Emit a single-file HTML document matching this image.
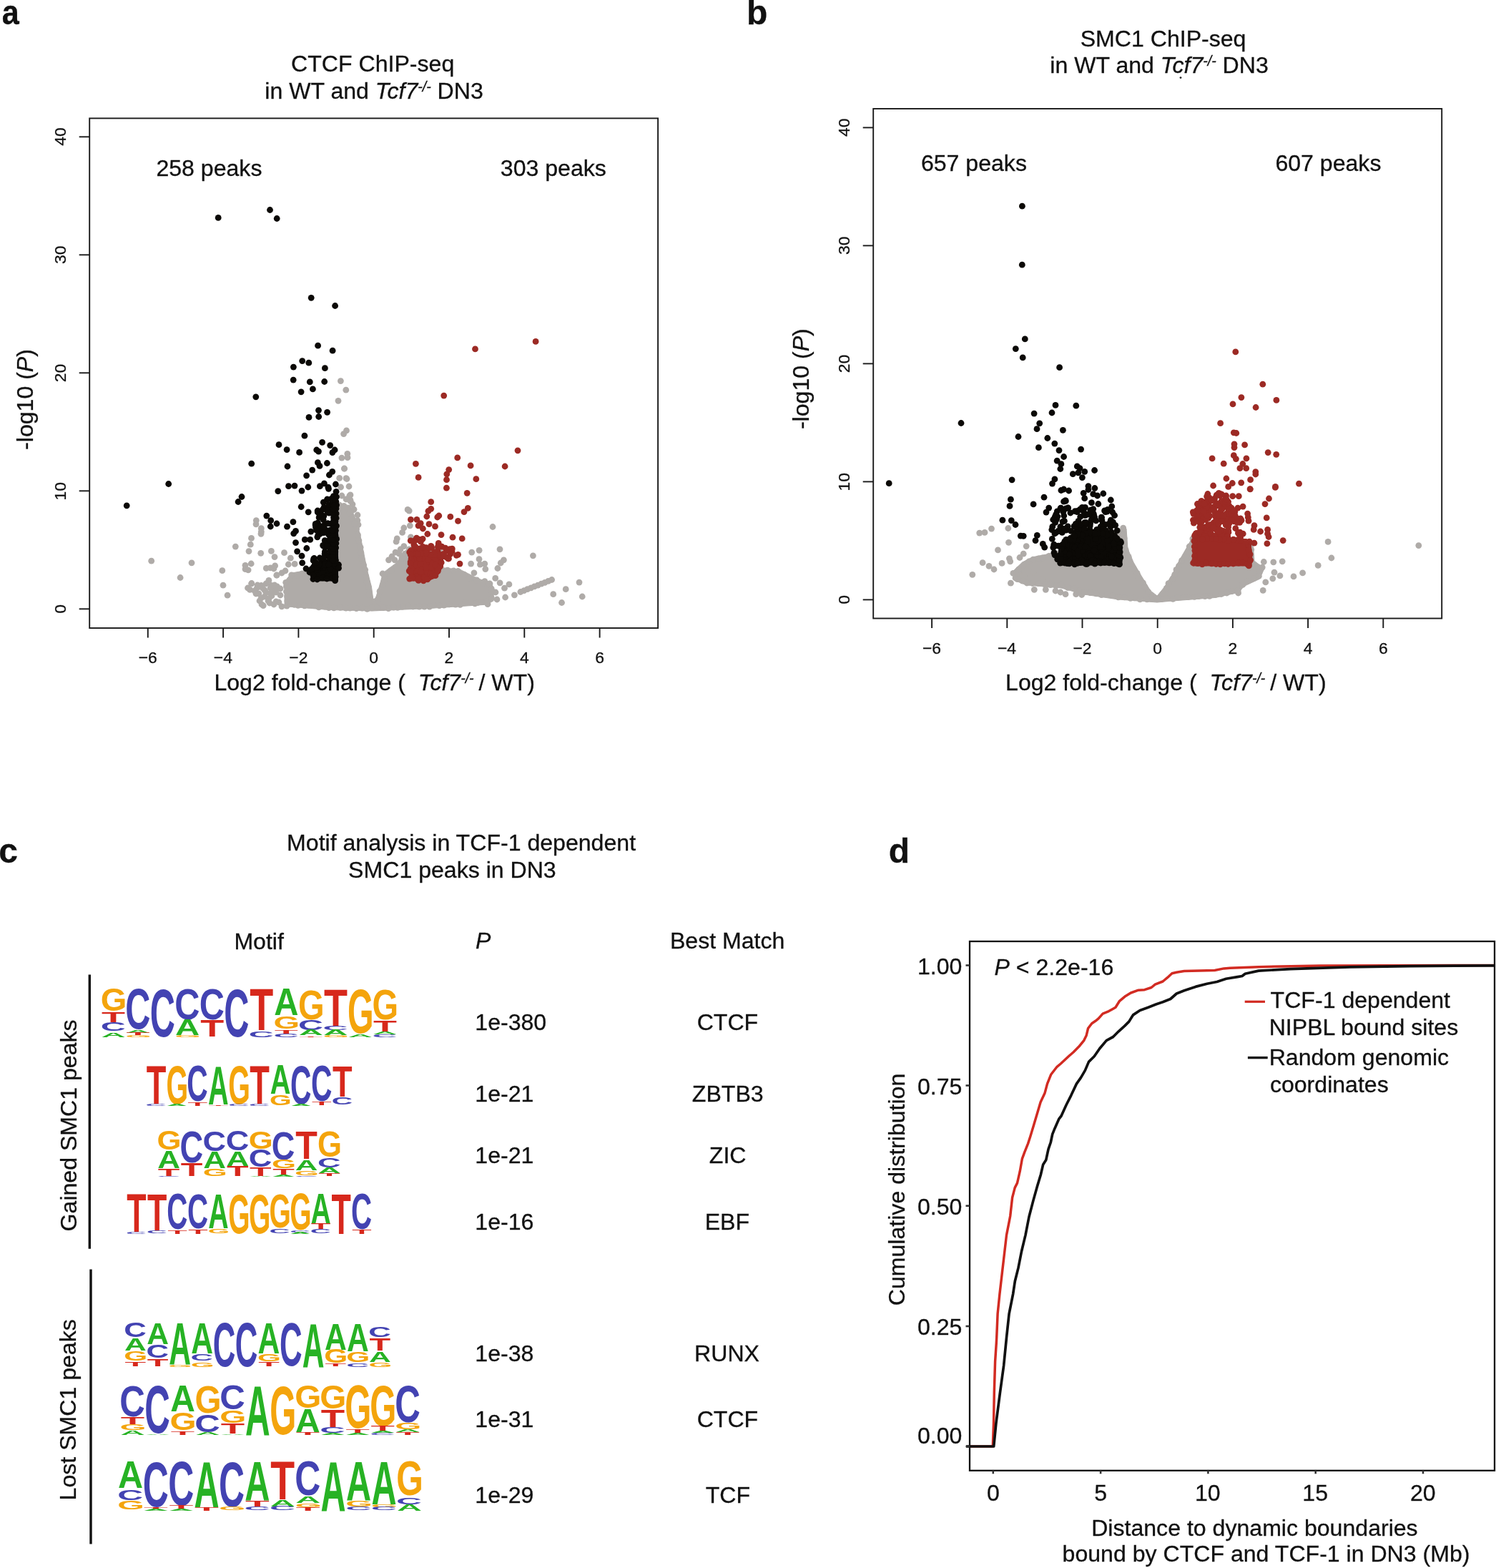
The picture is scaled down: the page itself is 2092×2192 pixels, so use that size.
<!DOCTYPE html>
<html><head><meta charset="utf-8"><title>Figure</title>
<style>html,body{margin:0;padding:0;background:#fff;width:2092px;height:2192px}svg{display:block}text{font-family:"Liberation Sans",Arial,Helvetica,sans-serif;fill:#111;stroke:#111;stroke-width:0.3px}text.lg{stroke:none}</style>
</head><body>
<svg width="2092" height="2192" viewBox="0 0 2092 2192">
<rect x="0" y="0" width="2092" height="2192" fill="#fff"/>
<text transform="translate(2.8,34.4) scale(0.9,1)" font-size="48" font-weight="bold">a</text>
<text x="1043.9" y="34.2" font-size="48" font-weight="bold">b</text>
<text x="-1.7" y="1206.2" font-size="48" font-weight="bold">c</text>
<text x="1242.8" y="1205.9" font-size="48" font-weight="bold">d</text>
<polygon points="398.0,848.0 398.0,813.0 408.0,801.0 422.0,798.6 436.0,797.0 466.0,760.0 470.0,712.0 475.0,703.0 481.0,705.0 490.0,708.0 496.2,722.6 503.5,747.0 508.4,771.7 513.3,796.2 519.5,820.7 522.0,839.0 525.6,835.4 531.7,815.8 535.4,801.0 545.2,793.7 555.0,786.4 564.8,771.7 572.0,765.0 618.0,765.0 618.8,793.7 643.3,796.2 667.8,808.4 687.4,815.8 690.0,822.0 690.0,840.0 680.0,845.2 600.0,850.5 520.7,854.0 460.0,852.5 410.3,848.5" fill="#afaba8" stroke="#afaba8" stroke-width="1" stroke-linejoin="round"/>
<g fill="#afaba8"><circle cx="211.7" cy="784.2" r="4.4"/><circle cx="268.0" cy="786.8" r="4.4"/><circle cx="252.1" cy="807.5" r="4.4"/><circle cx="310.8" cy="797.7" r="4.4"/><circle cx="312.0" cy="818.2" r="4.4"/><circle cx="318.1" cy="832.2" r="4.4"/><circle cx="329.3" cy="764.1" r="4.4"/><circle cx="358.3" cy="727.6" r="4.4"/><circle cx="358.0" cy="732.8" r="4.4"/><circle cx="365.3" cy="738.7" r="4.4"/><circle cx="365.3" cy="743.4" r="4.4"/><circle cx="365.0" cy="746.3" r="4.4"/><circle cx="351.5" cy="752.4" r="4.4"/><circle cx="350.3" cy="761.2" r="4.4"/><circle cx="348.0" cy="770.6" r="4.4"/><circle cx="364.7" cy="773.3" r="4.4"/><circle cx="379.4" cy="770.4" r="4.4"/><circle cx="384.0" cy="778.6" r="4.4"/><circle cx="397.5" cy="772.7" r="4.4"/><circle cx="343.0" cy="790.3" r="4.4"/><circle cx="351.2" cy="788.0" r="4.4"/><circle cx="343.0" cy="795.6" r="4.4"/><circle cx="347.1" cy="796.8" r="4.4"/><circle cx="372.3" cy="794.4" r="4.4"/><circle cx="378.2" cy="793.8" r="4.4"/><circle cx="384.6" cy="790.9" r="4.4"/><circle cx="382.9" cy="795.0" r="4.4"/><circle cx="387.0" cy="804.0" r="4.4"/><circle cx="394.0" cy="801.0" r="4.4"/><circle cx="399.0" cy="798.0" r="4.4"/><circle cx="351.8" cy="815.5" r="4.4"/><circle cx="346.5" cy="822.0" r="4.4"/><circle cx="349.5" cy="824.3" r="4.4"/><circle cx="359.4" cy="822.0" r="4.4"/><circle cx="365.3" cy="818.5" r="4.4"/><circle cx="375.9" cy="811.4" r="4.4"/><circle cx="379.4" cy="818.5" r="4.4"/><circle cx="387.6" cy="820.0" r="4.4"/><circle cx="365.3" cy="836.0" r="4.4"/><circle cx="368.2" cy="846.6" r="4.4"/><circle cx="394.0" cy="847.8" r="4.4"/><circle cx="406.3" cy="780.2" r="4.4"/><circle cx="403.3" cy="789.0" r="4.4"/><circle cx="412.1" cy="788.4" r="4.4"/><circle cx="386.9" cy="804.2" r="4.4"/><circle cx="351.7" cy="816.0" r="4.4"/><circle cx="358.0" cy="830.0" r="4.4"/><circle cx="372.0" cy="828.0" r="4.4"/><circle cx="380.0" cy="833.0" r="4.4"/><circle cx="363.0" cy="840.0" r="4.4"/><circle cx="377.0" cy="843.0" r="4.4"/><circle cx="370.0" cy="825.0" r="4.4"/><circle cx="384.0" cy="826.0" r="4.4"/><circle cx="376.0" cy="837.0" r="4.4"/><circle cx="386.0" cy="841.0" r="4.4"/><circle cx="360.0" cy="818.0" r="4.4"/><circle cx="367.0" cy="822.0" r="4.4"/><circle cx="372.0" cy="816.0" r="4.4"/><circle cx="378.0" cy="822.0" r="4.4"/><circle cx="384.0" cy="818.0" r="4.4"/><circle cx="362.0" cy="830.0" r="4.4"/><circle cx="370.0" cy="834.0" r="4.4"/><circle cx="378.0" cy="830.0" r="4.4"/><circle cx="386.0" cy="828.0" r="4.4"/><circle cx="392.0" cy="823.0" r="4.4"/><circle cx="375.0" cy="840.0" r="4.4"/><circle cx="383.0" cy="845.0" r="4.4"/><circle cx="366.0" cy="845.0" r="4.4"/><circle cx="392.0" cy="832.0" r="4.4"/><circle cx="390.0" cy="842.0" r="4.4"/><circle cx="356.0" cy="826.0" r="4.4"/><circle cx="476.4" cy="532.6" r="4.4"/><circle cx="483.8" cy="545.2" r="4.4"/><circle cx="473.0" cy="560.3" r="4.4"/><circle cx="484.5" cy="601.9" r="4.4"/><circle cx="480.6" cy="606.6" r="4.4"/><circle cx="485.8" cy="634.3" r="4.4"/><circle cx="486.0" cy="639.7" r="4.4"/><circle cx="477.9" cy="640.1" r="4.4"/><circle cx="481.5" cy="655.0" r="4.4"/><circle cx="485.0" cy="669.5" r="4.4"/><circle cx="474.7" cy="668.4" r="4.4"/><circle cx="490.0" cy="691.9" r="4.4"/><circle cx="490.0" cy="699.4" r="4.4"/><circle cx="495.0" cy="712.2" r="4.4"/><circle cx="500.0" cy="720.0" r="4.4"/><circle cx="488.0" cy="680.0" r="4.4"/><circle cx="493.0" cy="705.0" r="4.4"/><circle cx="476.6" cy="681.0" r="4.4"/><circle cx="484.0" cy="668.7" r="4.4"/><circle cx="481.5" cy="655.2" r="4.4"/><circle cx="488.8" cy="693.2" r="4.4"/><circle cx="490.0" cy="700.5" r="4.4"/><circle cx="493.7" cy="712.8" r="4.4"/><circle cx="499.9" cy="727.5" r="4.4"/><circle cx="501.0" cy="733.6" r="4.4"/><circle cx="478.0" cy="693.0" r="4.4"/><circle cx="484.0" cy="698.0" r="4.4"/><circle cx="570.1" cy="712.4" r="4.4"/><circle cx="572.2" cy="714.1" r="4.4"/><circle cx="573.3" cy="734.8" r="4.4"/><circle cx="564.8" cy="738.0" r="4.4"/><circle cx="562.6" cy="744.4" r="4.4"/><circle cx="555.2" cy="752.9" r="4.4"/><circle cx="554.1" cy="757.2" r="4.4"/><circle cx="564.8" cy="763.6" r="4.4"/><circle cx="574.4" cy="750.8" r="4.4"/><circle cx="553.0" cy="772.1" r="4.4"/><circle cx="558.4" cy="774.2" r="4.4"/><circle cx="543.5" cy="782.8" r="4.4"/><circle cx="552.0" cy="782.8" r="4.4"/><circle cx="535.0" cy="802.0" r="4.4"/><circle cx="548.0" cy="778.0" r="4.4"/><circle cx="560.0" cy="768.0" r="4.4"/><circle cx="689.0" cy="736.5" r="4.4"/><circle cx="699.0" cy="767.8" r="4.4"/><circle cx="670.1" cy="769.3" r="4.4"/><circle cx="659.7" cy="772.1" r="4.4"/><circle cx="745.4" cy="776.8" r="4.4"/><circle cx="670.0" cy="781.7" r="4.4"/><circle cx="677.8" cy="788.1" r="4.4"/><circle cx="678.8" cy="795.6" r="4.4"/><circle cx="671.4" cy="789.2" r="4.4"/><circle cx="658.6" cy="788.1" r="4.4"/><circle cx="662.9" cy="800.9" r="4.4"/><circle cx="704.4" cy="782.8" r="4.4"/><circle cx="700.2" cy="787.0" r="4.4"/><circle cx="695.9" cy="794.5" r="4.4"/><circle cx="677.8" cy="812.6" r="4.4"/><circle cx="692.7" cy="808.4" r="4.4"/><circle cx="699.1" cy="814.8" r="4.4"/><circle cx="711.9" cy="816.9" r="4.4"/><circle cx="705.5" cy="822.2" r="4.4"/><circle cx="706.6" cy="835.0" r="4.4"/><circle cx="719.4" cy="831.8" r="4.4"/><circle cx="773.7" cy="830.7" r="4.4"/><circle cx="791.2" cy="823.7" r="4.4"/><circle cx="785.5" cy="842.5" r="4.4"/><circle cx="810.0" cy="814.1" r="4.4"/><circle cx="814.2" cy="834.0" r="4.4"/><circle cx="682.0" cy="844.6" r="4.4"/><circle cx="668.2" cy="842.5" r="4.4"/><circle cx="693.0" cy="828.0" r="4.4"/><circle cx="695.0" cy="838.0" r="4.4"/><circle cx="685.0" cy="816.0" r="4.4"/><circle cx="727.9" cy="827.5" r="4.4"/><circle cx="732.8" cy="825.6" r="4.4"/><circle cx="737.6" cy="823.7" r="4.4"/><circle cx="742.5" cy="821.8" r="4.4"/><circle cx="747.3" cy="819.9" r="4.4"/><circle cx="752.2" cy="818.1" r="4.4"/><circle cx="757.0" cy="816.2" r="4.4"/><circle cx="761.9" cy="814.3" r="4.4"/><circle cx="766.7" cy="812.4" r="4.4"/><circle cx="771.6" cy="810.5" r="4.4"/><circle cx="401.1" cy="847.2" r="4.4"/><circle cx="401.9" cy="840.0" r="4.4"/><circle cx="401.6" cy="833.7" r="4.4"/><circle cx="400.4" cy="827.0" r="4.4"/><circle cx="400.4" cy="819.8" r="4.4"/><circle cx="399.7" cy="814.3" r="4.4"/><circle cx="405.5" cy="810.0" r="4.4"/><circle cx="407.7" cy="803.8" r="4.4"/><circle cx="415.9" cy="804.3" r="4.4"/><circle cx="422.6" cy="801.8" r="4.4"/><circle cx="430.5" cy="800.2" r="4.4"/><circle cx="439.6" cy="798.7" r="4.4"/><circle cx="442.9" cy="792.1" r="4.4"/><circle cx="448.3" cy="787.6" r="4.4"/><circle cx="453.0" cy="780.9" r="4.4"/><circle cx="459.1" cy="774.2" r="4.4"/><circle cx="463.8" cy="767.3" r="4.4"/><circle cx="468.4" cy="759.6" r="4.4"/><circle cx="470.6" cy="752.1" r="4.4"/><circle cx="470.4" cy="744.5" r="4.4"/><circle cx="471.4" cy="735.8" r="4.4"/><circle cx="472.9" cy="728.8" r="4.4"/><circle cx="472.2" cy="720.5" r="4.4"/><circle cx="473.1" cy="714.6" r="4.4"/><circle cx="474.4" cy="705.8" r="4.4"/><circle cx="481.0" cy="707.4" r="4.4"/><circle cx="486.6" cy="710.0" r="4.4"/><circle cx="489.0" cy="716.6" r="4.4"/><circle cx="491.7" cy="724.0" r="4.4"/><circle cx="495.9" cy="731.9" r="4.4"/><circle cx="498.6" cy="739.4" r="4.4"/><circle cx="500.5" cy="747.9" r="4.4"/><circle cx="501.9" cy="755.8" r="4.4"/><circle cx="504.1" cy="765.2" r="4.4"/><circle cx="504.9" cy="772.8" r="4.4"/><circle cx="505.5" cy="781.0" r="4.4"/><circle cx="508.6" cy="789.9" r="4.4"/><circle cx="510.7" cy="796.5" r="4.4"/><circle cx="511.7" cy="805.6" r="4.4"/><circle cx="512.9" cy="813.3" r="4.4"/><circle cx="515.2" cy="820.3" r="4.4"/><circle cx="516.2" cy="831.0" r="4.4"/><circle cx="523.6" cy="840.9" r="4.4"/><circle cx="528.7" cy="837.3" r="4.4"/><circle cx="531.0" cy="826.5" r="4.4"/><circle cx="535.2" cy="817.6" r="4.4"/><circle cx="537.7" cy="810.1" r="4.4"/><circle cx="537.0" cy="803.6" r="4.4"/><circle cx="547.0" cy="797.4" r="4.4"/><circle cx="559.0" cy="787.5" r="4.4"/><circle cx="562.0" cy="780.3" r="4.4"/><circle cx="566.5" cy="774.2" r="4.4"/><circle cx="572.2" cy="767.9" r="4.4"/><circle cx="578.5" cy="768.3" r="4.4"/><circle cx="587.0" cy="768.7" r="4.4"/><circle cx="596.1" cy="769.0" r="4.4"/><circle cx="602.7" cy="768.8" r="4.4"/><circle cx="610.8" cy="767.4" r="4.4"/><circle cx="615.5" cy="765.8" r="4.4"/><circle cx="615.6" cy="773.0" r="4.4"/><circle cx="614.6" cy="779.2" r="4.4"/><circle cx="614.1" cy="786.9" r="4.4"/><circle cx="617.4" cy="796.1" r="4.4"/><circle cx="625.9" cy="797.2" r="4.4"/><circle cx="634.4" cy="797.8" r="4.4"/><circle cx="640.5" cy="798.5" r="4.4"/><circle cx="649.0" cy="803.1" r="4.4"/><circle cx="656.9" cy="808.4" r="4.4"/><circle cx="666.8" cy="810.8" r="4.4"/><circle cx="675.8" cy="815.0" r="4.4"/><circle cx="683.8" cy="816.2" r="4.4"/><circle cx="687.3" cy="823.2" r="4.4"/><circle cx="686.4" cy="831.0" r="4.4"/><circle cx="687.4" cy="835.9" r="4.4"/><circle cx="679.4" cy="841.1" r="4.4"/><circle cx="673.3" cy="841.4" r="4.4"/><circle cx="664.1" cy="843.8" r="4.4"/><circle cx="658.0" cy="842.3" r="4.4"/><circle cx="650.8" cy="842.5" r="4.4"/><circle cx="643.5" cy="845.3" r="4.4"/><circle cx="637.0" cy="845.1" r="4.4"/><circle cx="628.3" cy="844.8" r="4.4"/><circle cx="620.8" cy="846.2" r="4.4"/><circle cx="614.4" cy="846.7" r="4.4"/><circle cx="606.6" cy="845.9" r="4.4"/><circle cx="600.6" cy="848.2" r="4.4"/><circle cx="593.5" cy="848.1" r="4.4"/><circle cx="586.2" cy="848.2" r="4.4"/><circle cx="577.6" cy="848.0" r="4.4"/><circle cx="570.7" cy="847.1" r="4.4"/><circle cx="562.7" cy="848.1" r="4.4"/><circle cx="556.0" cy="849.4" r="4.4"/><circle cx="550.5" cy="849.1" r="4.4"/><circle cx="543.2" cy="850.7" r="4.4"/><circle cx="536.1" cy="849.5" r="4.4"/><circle cx="527.1" cy="849.5" r="4.4"/><circle cx="520.1" cy="849.8" r="4.4"/><circle cx="513.5" cy="851.3" r="4.4"/><circle cx="506.4" cy="850.1" r="4.4"/><circle cx="498.4" cy="850.7" r="4.4"/><circle cx="489.4" cy="850.1" r="4.4"/><circle cx="483.8" cy="850.2" r="4.4"/><circle cx="475.9" cy="849.3" r="4.4"/><circle cx="466.9" cy="849.9" r="4.4"/><circle cx="459.9" cy="849.7" r="4.4"/><circle cx="454.3" cy="848.2" r="4.4"/><circle cx="445.8" cy="848.9" r="4.4"/><circle cx="439.5" cy="846.5" r="4.4"/><circle cx="431.0" cy="845.9" r="4.4"/><circle cx="425.8" cy="846.9" r="4.4"/><circle cx="416.8" cy="846.4" r="4.4"/><circle cx="411.6" cy="845.4" r="4.4"/></g>
<polygon points="437.0,812.0 472.5,812.0 472.5,786.0 440.0,786.0 434.0,795.0" fill="#0b0906" stroke="#0b0906" stroke-width="1" stroke-linejoin="round"/>
<polygon points="463.0,700.0 468.0,688.0 472.5,694.0 472.5,790.0 463.0,790.0" fill="#0b0906" stroke="#0b0906" stroke-width="1" stroke-linejoin="round"/>
<g fill="#0b0906"><circle cx="305.2" cy="304.4" r="4.4"/><circle cx="377.5" cy="293.5" r="4.4"/><circle cx="387.2" cy="305.5" r="4.4"/><circle cx="435.2" cy="416.3" r="4.4"/><circle cx="468.6" cy="427.5" r="4.4"/><circle cx="444.6" cy="483.2" r="4.4"/><circle cx="465.1" cy="490.2" r="4.4"/><circle cx="422.7" cy="504.6" r="4.4"/><circle cx="431.8" cy="507.2" r="4.4"/><circle cx="410.4" cy="513.1" r="4.4"/><circle cx="454.4" cy="514.7" r="4.4"/><circle cx="410.2" cy="531.1" r="4.4"/><circle cx="433.3" cy="533.9" r="4.4"/><circle cx="453.7" cy="533.5" r="4.4"/><circle cx="437.4" cy="543.9" r="4.4"/><circle cx="421.1" cy="547.8" r="4.4"/><circle cx="357.8" cy="554.8" r="4.4"/><circle cx="445.5" cy="573.6" r="4.4"/><circle cx="457.6" cy="576.3" r="4.4"/><circle cx="432.0" cy="583.4" r="4.4"/><circle cx="445.7" cy="582.5" r="4.4"/><circle cx="425.9" cy="609.2" r="4.4"/><circle cx="390.0" cy="621.7" r="4.4"/><circle cx="401.1" cy="628.6" r="4.4"/><circle cx="418.6" cy="632.4" r="4.4"/><circle cx="450.6" cy="618.3" r="4.4"/><circle cx="461.7" cy="622.6" r="4.4"/><circle cx="442.7" cy="629.0" r="4.4"/><circle cx="445.5" cy="631.1" r="4.4"/><circle cx="468.1" cy="629.0" r="4.4"/><circle cx="464.9" cy="632.6" r="4.4"/><circle cx="351.7" cy="648.2" r="4.4"/><circle cx="402.0" cy="652.0" r="4.4"/><circle cx="444.4" cy="646.7" r="4.4"/><circle cx="447.0" cy="651.4" r="4.4"/><circle cx="457.4" cy="647.5" r="4.4"/><circle cx="436.7" cy="657.1" r="4.4"/><circle cx="428.6" cy="664.8" r="4.4"/><circle cx="464.7" cy="659.3" r="4.4"/><circle cx="460.4" cy="664.0" r="4.4"/><circle cx="235.7" cy="676.5" r="4.4"/><circle cx="177.2" cy="706.8" r="4.4"/><circle cx="338.0" cy="694.5" r="4.4"/><circle cx="333.1" cy="701.5" r="4.4"/><circle cx="469.4" cy="677.0" r="4.4"/><circle cx="447.4" cy="679.7" r="4.4"/><circle cx="453.4" cy="675.9" r="4.4"/><circle cx="458.9" cy="681.2" r="4.4"/><circle cx="388.8" cy="686.6" r="4.4"/><circle cx="403.5" cy="679.7" r="4.4"/><circle cx="412.0" cy="679.1" r="4.4"/><circle cx="422.0" cy="686.1" r="4.4"/><circle cx="430.8" cy="681.0" r="4.4"/><circle cx="372.8" cy="721.1" r="4.4"/><circle cx="378.7" cy="727.7" r="4.4"/><circle cx="378.3" cy="736.0" r="4.4"/><circle cx="387.0" cy="732.0" r="4.4"/><circle cx="401.5" cy="736.2" r="4.4"/><circle cx="409.9" cy="729.6" r="4.4"/><circle cx="413.5" cy="742.4" r="4.4"/><circle cx="410.7" cy="745.8" r="4.4"/><circle cx="413.5" cy="758.6" r="4.4"/><circle cx="415.6" cy="770.8" r="4.4"/><circle cx="422.0" cy="777.2" r="4.4"/><circle cx="422.7" cy="786.8" r="4.4"/><circle cx="428.8" cy="766.5" r="4.4"/><circle cx="426.3" cy="754.4" r="4.4"/><circle cx="433.7" cy="754.4" r="4.4"/><circle cx="434.8" cy="743.1" r="4.4"/><circle cx="444.8" cy="748.0" r="4.4"/><circle cx="421.2" cy="708.5" r="4.4"/><circle cx="431.2" cy="715.8" r="4.4"/><circle cx="428.0" cy="795.0" r="4.4"/><circle cx="433.0" cy="800.0" r="4.4"/><circle cx="447.4" cy="746.3" r="4.4"/><circle cx="467.6" cy="758.3" r="4.4"/><circle cx="453.1" cy="792.1" r="4.4"/><circle cx="450.1" cy="784.7" r="4.4"/><circle cx="462.9" cy="706.1" r="4.4"/><circle cx="444.2" cy="715.9" r="4.4"/><circle cx="443.8" cy="750.8" r="4.4"/><circle cx="444.4" cy="730.9" r="4.4"/><circle cx="440.3" cy="789.3" r="4.4"/><circle cx="447.5" cy="735.5" r="4.4"/><circle cx="455.0" cy="788.6" r="4.4"/><circle cx="449.7" cy="790.2" r="4.4"/><circle cx="452.3" cy="744.3" r="4.4"/><circle cx="441.6" cy="737.3" r="4.4"/><circle cx="459.6" cy="747.2" r="4.4"/><circle cx="446.6" cy="742.7" r="4.4"/><circle cx="454.1" cy="774.3" r="4.4"/><circle cx="444.1" cy="714.0" r="4.4"/><circle cx="461.1" cy="741.4" r="4.4"/><circle cx="454.3" cy="771.4" r="4.4"/><circle cx="465.7" cy="733.7" r="4.4"/><circle cx="455.9" cy="741.2" r="4.4"/><circle cx="452.6" cy="763.4" r="4.4"/><circle cx="450.7" cy="744.5" r="4.4"/><circle cx="451.5" cy="793.0" r="4.4"/><circle cx="458.7" cy="785.3" r="4.4"/><circle cx="466.6" cy="711.9" r="4.4"/><circle cx="454.2" cy="793.2" r="4.4"/><circle cx="463.3" cy="697.3" r="4.4"/><circle cx="461.5" cy="787.7" r="4.4"/><circle cx="457.5" cy="698.0" r="4.4"/><circle cx="464.7" cy="796.1" r="4.4"/><circle cx="443.1" cy="794.3" r="4.4"/><circle cx="448.9" cy="739.0" r="4.4"/><circle cx="468.2" cy="780.1" r="4.4"/><circle cx="441.2" cy="732.4" r="4.4"/><circle cx="452.8" cy="721.4" r="4.4"/><circle cx="459.5" cy="683.3" r="4.4"/><circle cx="454.0" cy="733.4" r="4.4"/><circle cx="456.3" cy="742.0" r="4.4"/><circle cx="461.6" cy="796.6" r="4.4"/><circle cx="449.7" cy="789.5" r="4.4"/><circle cx="462.6" cy="711.8" r="4.4"/><circle cx="440.9" cy="790.4" r="4.4"/><circle cx="454.5" cy="764.3" r="4.4"/><circle cx="458.4" cy="731.6" r="4.4"/><circle cx="438.4" cy="792.7" r="4.4"/><circle cx="456.6" cy="776.4" r="4.4"/><circle cx="438.7" cy="782.9" r="4.4"/><circle cx="438.2" cy="783.7" r="4.4"/><circle cx="450.7" cy="721.4" r="4.4"/><circle cx="454.0" cy="791.3" r="4.4"/><circle cx="453.1" cy="709.4" r="4.4"/><circle cx="446.1" cy="717.3" r="4.4"/><circle cx="460.7" cy="715.5" r="4.4"/><circle cx="452.3" cy="702.2" r="4.4"/><circle cx="459.8" cy="746.6" r="4.4"/><circle cx="442.2" cy="737.5" r="4.4"/><circle cx="466.4" cy="693.6" r="4.4"/><circle cx="462.6" cy="732.4" r="4.4"/><circle cx="452.1" cy="780.3" r="4.4"/><circle cx="448.8" cy="741.3" r="4.4"/><circle cx="458.4" cy="797.9" r="4.4"/><circle cx="447.1" cy="780.0" r="4.4"/><circle cx="459.0" cy="756.7" r="4.4"/><circle cx="449.2" cy="722.4" r="4.4"/><circle cx="438.7" cy="781.1" r="4.4"/><circle cx="464.3" cy="760.8" r="4.4"/><circle cx="445.5" cy="735.7" r="4.4"/><circle cx="441.1" cy="734.1" r="4.4"/><circle cx="444.6" cy="795.5" r="4.4"/><circle cx="467.6" cy="746.1" r="4.4"/><circle cx="443.9" cy="795.9" r="4.4"/><circle cx="446.1" cy="723.4" r="4.4"/><circle cx="451.4" cy="740.8" r="4.4"/><circle cx="442.5" cy="741.1" r="4.4"/><circle cx="455.0" cy="744.0" r="4.4"/><circle cx="460.4" cy="759.2" r="4.4"/><circle cx="459.3" cy="785.6" r="4.4"/><circle cx="448.7" cy="719.8" r="4.4"/><circle cx="468.0" cy="698.8" r="4.4"/><circle cx="459.5" cy="757.5" r="4.4"/><circle cx="465.0" cy="755.7" r="4.4"/><circle cx="459.9" cy="777.7" r="4.4"/><circle cx="452.4" cy="780.4" r="4.4"/><circle cx="462.2" cy="779.3" r="4.4"/><circle cx="455.0" cy="787.2" r="4.4"/><circle cx="458.2" cy="763.5" r="4.4"/><circle cx="439.4" cy="780.5" r="4.4"/><circle cx="454.2" cy="755.7" r="4.4"/><circle cx="456.4" cy="762.0" r="4.4"/><circle cx="461.9" cy="770.0" r="4.4"/><circle cx="452.3" cy="744.7" r="4.4"/><circle cx="459.9" cy="711.0" r="4.4"/><circle cx="459.7" cy="705.4" r="4.4"/><circle cx="460.0" cy="797.1" r="4.4"/><circle cx="452.1" cy="726.5" r="4.4"/><circle cx="451.6" cy="762.4" r="4.4"/><circle cx="460.9" cy="754.4" r="4.4"/><circle cx="460.2" cy="717.2" r="4.4"/><circle cx="457.8" cy="763.4" r="4.4"/><circle cx="458.0" cy="715.6" r="4.4"/><circle cx="452.8" cy="736.3" r="4.4"/><circle cx="465.0" cy="704.7" r="4.4"/><circle cx="467.8" cy="792.4" r="4.4"/><circle cx="462.6" cy="796.2" r="4.4"/><circle cx="450.6" cy="713.0" r="4.4"/><circle cx="442.8" cy="793.5" r="4.4"/><circle cx="467.0" cy="696.8" r="4.4"/><circle cx="462.7" cy="741.5" r="4.4"/><circle cx="437.9" cy="809.5" r="4.4"/><circle cx="443.5" cy="810.0" r="4.4"/><circle cx="451.2" cy="807.9" r="4.4"/><circle cx="457.1" cy="809.0" r="4.4"/><circle cx="465.3" cy="808.5" r="4.4"/><circle cx="468.6" cy="811.6" r="4.4"/><circle cx="469.1" cy="806.3" r="4.4"/><circle cx="468.3" cy="799.6" r="4.4"/><circle cx="470.3" cy="791.6" r="4.4"/><circle cx="473.5" cy="789.5" r="4.4"/><circle cx="467.0" cy="788.5" r="4.4"/><circle cx="459.2" cy="788.7" r="4.4"/><circle cx="454.2" cy="789.2" r="4.4"/><circle cx="446.2" cy="788.8" r="4.4"/><circle cx="442.0" cy="786.6" r="4.4"/><circle cx="436.0" cy="795.3" r="4.4"/><circle cx="437.9" cy="804.0" r="4.4"/><circle cx="465.2" cy="700.6" r="4.4"/><circle cx="468.3" cy="694.4" r="4.4"/><circle cx="470.1" cy="687.3" r="4.4"/><circle cx="470.4" cy="694.7" r="4.4"/><circle cx="469.8" cy="701.0" r="4.4"/><circle cx="470.6" cy="706.1" r="4.4"/><circle cx="470.0" cy="710.9" r="4.4"/><circle cx="470.1" cy="717.9" r="4.4"/><circle cx="470.1" cy="724.3" r="4.4"/><circle cx="469.0" cy="728.9" r="4.4"/><circle cx="470.5" cy="735.1" r="4.4"/><circle cx="469.4" cy="741.6" r="4.4"/><circle cx="469.0" cy="748.6" r="4.4"/><circle cx="470.6" cy="753.4" r="4.4"/><circle cx="469.9" cy="759.5" r="4.4"/><circle cx="469.6" cy="765.7" r="4.4"/><circle cx="468.7" cy="771.2" r="4.4"/><circle cx="468.8" cy="779.0" r="4.4"/><circle cx="469.5" cy="783.3" r="4.4"/><circle cx="473.5" cy="794.2" r="4.4"/><circle cx="459.9" cy="789.1" r="4.4"/><circle cx="465.3" cy="783.0" r="4.4"/><circle cx="465.6" cy="777.0" r="4.4"/><circle cx="465.4" cy="771.4" r="4.4"/><circle cx="466.2" cy="766.9" r="4.4"/><circle cx="466.6" cy="759.8" r="4.4"/><circle cx="465.8" cy="754.1" r="4.4"/><circle cx="465.7" cy="747.6" r="4.4"/><circle cx="464.9" cy="741.5" r="4.4"/><circle cx="467.1" cy="735.1" r="4.4"/><circle cx="466.0" cy="730.3" r="4.4"/><circle cx="466.9" cy="723.3" r="4.4"/><circle cx="465.5" cy="717.4" r="4.4"/><circle cx="465.8" cy="711.9" r="4.4"/><circle cx="467.1" cy="706.8" r="4.4"/></g>
<polygon points="572.0,812.0 600.0,812.0 612.0,805.0 619.0,792.0 620.0,772.0 572.0,770.0" fill="#9c2a24" stroke="#9c2a24" stroke-width="1" stroke-linejoin="round"/>
<g fill="#9c2a24"><circle cx="664.5" cy="487.9" r="4.4"/><circle cx="749.1" cy="477.4" r="4.4"/><circle cx="620.7" cy="553.1" r="4.4"/><circle cx="724.0" cy="629.8" r="4.4"/><circle cx="639.7" cy="639.9" r="4.4"/><circle cx="581.4" cy="648.3" r="4.4"/><circle cx="585.1" cy="667.4" r="4.4"/><circle cx="658.1" cy="650.9" r="4.4"/><circle cx="706.1" cy="652.0" r="4.4"/><circle cx="627.7" cy="656.6" r="4.4"/><circle cx="624.8" cy="662.8" r="4.4"/><circle cx="624.5" cy="670.7" r="4.4"/><circle cx="665.8" cy="669.7" r="4.4"/><circle cx="624.4" cy="682.2" r="4.4"/><circle cx="653.2" cy="689.3" r="4.4"/><circle cx="602.7" cy="701.7" r="4.4"/><circle cx="602.7" cy="711.3" r="4.4"/><circle cx="598.9" cy="714.5" r="4.4"/><circle cx="596.8" cy="722.0" r="4.4"/><circle cx="654.3" cy="710.3" r="4.4"/><circle cx="649.0" cy="715.6" r="4.4"/><circle cx="629.8" cy="722.4" r="4.4"/><circle cx="640.5" cy="728.4" r="4.4"/><circle cx="613.8" cy="721.0" r="4.4"/><circle cx="611.7" cy="723.0" r="4.4"/><circle cx="574.4" cy="726.3" r="4.4"/><circle cx="582.9" cy="726.3" r="4.4"/><circle cx="588.2" cy="731.6" r="4.4"/><circle cx="585.0" cy="734.8" r="4.4"/><circle cx="591.4" cy="739.0" r="4.4"/><circle cx="600.0" cy="732.7" r="4.4"/><circle cx="608.5" cy="735.9" r="4.4"/><circle cx="617.0" cy="747.6" r="4.4"/><circle cx="633.0" cy="751.2" r="4.4"/><circle cx="646.2" cy="752.9" r="4.4"/><circle cx="597.8" cy="746.5" r="4.4"/><circle cx="638.3" cy="776.4" r="4.4"/><circle cx="640.5" cy="775.3" r="4.4"/><circle cx="643.0" cy="788.1" r="4.4"/><circle cx="626.6" cy="780.6" r="4.4"/><circle cx="574.0" cy="795.3" r="4.4"/><circle cx="627.5" cy="780.9" r="4.4"/><circle cx="596.3" cy="808.5" r="4.4"/><circle cx="632.3" cy="767.2" r="4.4"/><circle cx="578.8" cy="761.4" r="4.4"/><circle cx="604.4" cy="793.6" r="4.4"/><circle cx="612.1" cy="798.7" r="4.4"/><circle cx="600.4" cy="785.6" r="4.4"/><circle cx="574.5" cy="799.7" r="4.4"/><circle cx="586.4" cy="808.1" r="4.4"/><circle cx="612.0" cy="770.5" r="4.4"/><circle cx="579.9" cy="767.4" r="4.4"/><circle cx="611.5" cy="794.6" r="4.4"/><circle cx="579.0" cy="756.3" r="4.4"/><circle cx="604.5" cy="787.6" r="4.4"/><circle cx="596.1" cy="765.6" r="4.4"/><circle cx="590.7" cy="780.1" r="4.4"/><circle cx="626.8" cy="781.0" r="4.4"/><circle cx="586.6" cy="767.1" r="4.4"/><circle cx="591.1" cy="753.3" r="4.4"/><circle cx="602.9" cy="793.1" r="4.4"/><circle cx="598.0" cy="767.7" r="4.4"/><circle cx="586.1" cy="754.1" r="4.4"/><circle cx="593.0" cy="777.7" r="4.4"/><circle cx="614.3" cy="764.1" r="4.4"/><circle cx="603.3" cy="764.5" r="4.4"/><circle cx="632.1" cy="771.0" r="4.4"/><circle cx="622.8" cy="766.1" r="4.4"/><circle cx="585.7" cy="798.4" r="4.4"/><circle cx="590.3" cy="810.1" r="4.4"/><circle cx="602.7" cy="763.4" r="4.4"/><circle cx="585.8" cy="777.4" r="4.4"/><circle cx="581.1" cy="776.0" r="4.4"/><circle cx="585.2" cy="811.4" r="4.4"/><circle cx="580.8" cy="755.2" r="4.4"/><circle cx="575.7" cy="776.0" r="4.4"/><circle cx="629.8" cy="772.1" r="4.4"/><circle cx="583.5" cy="809.1" r="4.4"/><circle cx="613.2" cy="775.1" r="4.4"/><circle cx="595.2" cy="772.2" r="4.4"/><circle cx="582.5" cy="752.2" r="4.4"/><circle cx="589.3" cy="773.4" r="4.4"/><circle cx="594.1" cy="802.1" r="4.4"/><circle cx="623.0" cy="778.4" r="4.4"/><circle cx="575.1" cy="780.9" r="4.4"/><circle cx="595.1" cy="808.1" r="4.4"/><circle cx="584.0" cy="774.2" r="4.4"/><circle cx="597.5" cy="801.5" r="4.4"/><circle cx="574.2" cy="755.8" r="4.4"/><circle cx="629.0" cy="767.7" r="4.4"/><circle cx="593.0" cy="768.6" r="4.4"/><circle cx="588.3" cy="795.7" r="4.4"/><circle cx="591.6" cy="768.8" r="4.4"/><circle cx="572.2" cy="798.1" r="4.4"/><circle cx="586.5" cy="781.0" r="4.4"/><circle cx="596.0" cy="767.3" r="4.4"/><circle cx="598.7" cy="782.1" r="4.4"/><circle cx="609.6" cy="772.0" r="4.4"/><circle cx="591.8" cy="774.1" r="4.4"/><circle cx="584.2" cy="797.9" r="4.4"/><circle cx="587.3" cy="755.9" r="4.4"/><circle cx="574.1" cy="785.7" r="4.4"/><circle cx="592.2" cy="811.8" r="4.4"/><circle cx="588.4" cy="757.1" r="4.4"/><circle cx="578.0" cy="782.4" r="4.4"/><circle cx="616.0" cy="779.3" r="4.4"/><circle cx="586.5" cy="777.4" r="4.4"/><circle cx="610.5" cy="793.1" r="4.4"/><circle cx="613.2" cy="759.4" r="4.4"/><circle cx="624.1" cy="769.9" r="4.4"/><circle cx="607.1" cy="774.8" r="4.4"/><circle cx="617.8" cy="764.2" r="4.4"/><circle cx="587.3" cy="767.0" r="4.4"/><circle cx="581.5" cy="805.9" r="4.4"/><circle cx="607.9" cy="771.9" r="4.4"/><circle cx="603.5" cy="766.1" r="4.4"/><circle cx="601.4" cy="802.0" r="4.4"/><circle cx="574.5" cy="769.9" r="4.4"/><circle cx="579.4" cy="763.6" r="4.4"/><circle cx="629.7" cy="774.7" r="4.4"/><circle cx="625.7" cy="779.4" r="4.4"/><circle cx="588.1" cy="799.4" r="4.4"/><circle cx="609.0" cy="789.8" r="4.4"/><circle cx="585.5" cy="774.5" r="4.4"/><circle cx="580.8" cy="764.4" r="4.4"/><circle cx="587.8" cy="788.6" r="4.4"/><circle cx="612.4" cy="764.4" r="4.4"/><circle cx="572.7" cy="772.0" r="4.4"/><circle cx="614.1" cy="763.3" r="4.4"/><circle cx="591.4" cy="764.4" r="4.4"/><circle cx="572.7" cy="809.1" r="4.4"/><circle cx="578.0" cy="808.0" r="4.4"/><circle cx="585.7" cy="809.1" r="4.4"/><circle cx="593.3" cy="808.0" r="4.4"/><circle cx="597.7" cy="809.9" r="4.4"/><circle cx="604.3" cy="805.4" r="4.4"/><circle cx="608.9" cy="804.7" r="4.4"/><circle cx="612.4" cy="797.2" r="4.4"/><circle cx="615.7" cy="791.6" r="4.4"/><circle cx="617.2" cy="786.4" r="4.4"/><circle cx="616.3" cy="777.8" r="4.4"/><circle cx="620.4" cy="774.3" r="4.4"/><circle cx="612.7" cy="775.7" r="4.4"/><circle cx="607.7" cy="775.3" r="4.4"/><circle cx="601.7" cy="775.2" r="4.4"/><circle cx="595.8" cy="773.2" r="4.4"/><circle cx="588.7" cy="773.9" r="4.4"/><circle cx="584.2" cy="774.5" r="4.4"/><circle cx="576.9" cy="773.5" r="4.4"/><circle cx="574.7" cy="770.0" r="4.4"/><circle cx="574.2" cy="775.5" r="4.4"/><circle cx="575.1" cy="783.0" r="4.4"/><circle cx="574.1" cy="788.0" r="4.4"/><circle cx="575.7" cy="795.1" r="4.4"/><circle cx="574.3" cy="799.1" r="4.4"/><circle cx="576.1" cy="807.1" r="4.4"/></g>
<polygon points="1420.0,812.0 1415.0,800.0 1429.6,786.0 1444.0,778.8 1464.7,774.8 1475.0,772.0 1560.0,745.0 1564.0,739.0 1575.0,739.0 1577.0,767.0 1585.0,786.0 1596.0,805.0 1609.0,826.0 1618.2,833.0 1628.0,821.0 1640.0,802.0 1646.0,789.0 1657.5,769.0 1665.0,756.0 1668.3,749.0 1680.0,749.0 1752.0,760.0 1754.0,784.0 1768.0,795.0 1761.0,809.5 1739.5,819.6 1732.3,828.2 1700.0,835.4 1640.0,840.0 1618.0,842.0 1564.0,838.0 1516.0,831.0 1484.0,822.0 1436.0,818.0" fill="#afaba8" stroke="#afaba8" stroke-width="1" stroke-linejoin="round"/>
<g fill="#afaba8"><circle cx="1369.7" cy="745.1" r="4.4"/><circle cx="1377.0" cy="744.4" r="4.4"/><circle cx="1386.5" cy="739.1" r="4.4"/><circle cx="1409.8" cy="738.5" r="4.4"/><circle cx="1410.5" cy="758.3" r="4.4"/><circle cx="1395.5" cy="768.9" r="4.4"/><circle cx="1374.1" cy="786.7" r="4.4"/><circle cx="1383.0" cy="791.4" r="4.4"/><circle cx="1390.0" cy="796.0" r="4.4"/><circle cx="1401.1" cy="787.4" r="4.4"/><circle cx="1359.8" cy="803.3" r="4.4"/><circle cx="1413.4" cy="815.2" r="4.4"/><circle cx="1411.4" cy="780.8" r="4.4"/><circle cx="1412.7" cy="784.8" r="4.4"/><circle cx="1426.0" cy="779.5" r="4.4"/><circle cx="1431.2" cy="774.2" r="4.4"/><circle cx="1435.2" cy="763.6" r="4.4"/><circle cx="1446.3" cy="824.3" r="4.4"/><circle cx="1462.3" cy="824.3" r="4.4"/><circle cx="1476.0" cy="826.0" r="4.4"/><circle cx="1483.0" cy="828.0" r="4.4"/><circle cx="1490.0" cy="830.7" r="4.4"/><circle cx="1504.7" cy="830.7" r="4.4"/><circle cx="1512.7" cy="831.5" r="4.4"/><circle cx="1436.0" cy="815.0" r="4.4"/><circle cx="1432.0" cy="805.0" r="4.4"/><circle cx="1424.0" cy="800.0" r="4.4"/><circle cx="1420.0" cy="808.0" r="4.4"/><circle cx="1780.8" cy="785.8" r="4.4"/><circle cx="1793.2" cy="784.8" r="4.4"/><circle cx="1767.3" cy="785.5" r="4.4"/><circle cx="1782.0" cy="800.2" r="4.4"/><circle cx="1789.9" cy="804.9" r="4.4"/><circle cx="1779.8" cy="808.8" r="4.4"/><circle cx="1769.8" cy="813.9" r="4.4"/><circle cx="1809.0" cy="805.9" r="4.4"/><circle cx="1821.6" cy="800.9" r="4.4"/><circle cx="1843.2" cy="790.4" r="4.4"/><circle cx="1861.9" cy="780.0" r="4.4"/><circle cx="1857.1" cy="757.4" r="4.4"/><circle cx="1766.2" cy="825.4" r="4.4"/><circle cx="1731.6" cy="829.0" r="4.4"/><circle cx="1983.8" cy="762.6" r="4.4"/><circle cx="1440.0" cy="790.0" r="4.4"/><circle cx="1452.0" cy="785.0" r="4.4"/><circle cx="1445.0" cy="800.0" r="4.4"/><circle cx="1458.0" cy="810.0" r="4.4"/><circle cx="1470.0" cy="815.0" r="4.4"/><circle cx="1422.6" cy="809.7" r="4.4"/><circle cx="1416.8" cy="801.4" r="4.4"/><circle cx="1424.3" cy="796.1" r="4.4"/><circle cx="1431.6" cy="790.0" r="4.4"/><circle cx="1438.9" cy="785.0" r="4.4"/><circle cx="1444.8" cy="782.1" r="4.4"/><circle cx="1452.3" cy="781.0" r="4.4"/><circle cx="1457.9" cy="779.9" r="4.4"/><circle cx="1466.7" cy="777.5" r="4.4"/><circle cx="1477.0" cy="774.2" r="4.4"/><circle cx="1482.6" cy="772.5" r="4.4"/><circle cx="1490.8" cy="771.9" r="4.4"/><circle cx="1497.9" cy="768.2" r="4.4"/><circle cx="1505.3" cy="765.9" r="4.4"/><circle cx="1510.9" cy="765.1" r="4.4"/><circle cx="1518.9" cy="762.3" r="4.4"/><circle cx="1526.0" cy="760.7" r="4.4"/><circle cx="1532.7" cy="758.2" r="4.4"/><circle cx="1540.3" cy="755.9" r="4.4"/><circle cx="1546.7" cy="753.4" r="4.4"/><circle cx="1554.1" cy="750.1" r="4.4"/><circle cx="1562.2" cy="747.2" r="4.4"/><circle cx="1563.0" cy="743.5" r="4.4"/><circle cx="1570.7" cy="738.1" r="4.4"/><circle cx="1571.1" cy="747.3" r="4.4"/><circle cx="1572.1" cy="752.4" r="4.4"/><circle cx="1571.9" cy="759.1" r="4.4"/><circle cx="1574.2" cy="768.7" r="4.4"/><circle cx="1578.2" cy="778.4" r="4.4"/><circle cx="1580.9" cy="788.0" r="4.4"/><circle cx="1585.3" cy="794.8" r="4.4"/><circle cx="1590.1" cy="801.4" r="4.4"/><circle cx="1592.0" cy="807.7" r="4.4"/><circle cx="1598.4" cy="814.9" r="4.4"/><circle cx="1600.7" cy="820.1" r="4.4"/><circle cx="1605.9" cy="827.7" r="4.4"/><circle cx="1621.7" cy="836.0" r="4.4"/><circle cx="1626.1" cy="830.0" r="4.4"/><circle cx="1631.3" cy="822.4" r="4.4"/><circle cx="1634.0" cy="815.6" r="4.4"/><circle cx="1639.6" cy="809.5" r="4.4"/><circle cx="1642.7" cy="803.3" r="4.4"/><circle cx="1645.0" cy="796.4" r="4.4"/><circle cx="1648.5" cy="791.3" r="4.4"/><circle cx="1652.6" cy="783.6" r="4.4"/><circle cx="1657.8" cy="777.4" r="4.4"/><circle cx="1661.4" cy="771.0" r="4.4"/><circle cx="1663.2" cy="764.0" r="4.4"/><circle cx="1668.0" cy="758.1" r="4.4"/><circle cx="1667.9" cy="753.0" r="4.4"/><circle cx="1679.6" cy="751.8" r="4.4"/><circle cx="1687.5" cy="752.6" r="4.4"/><circle cx="1694.6" cy="753.9" r="4.4"/><circle cx="1699.9" cy="755.0" r="4.4"/><circle cx="1708.9" cy="758.0" r="4.4"/><circle cx="1714.3" cy="757.9" r="4.4"/><circle cx="1722.7" cy="759.8" r="4.4"/><circle cx="1729.1" cy="760.1" r="4.4"/><circle cx="1736.7" cy="762.1" r="4.4"/><circle cx="1743.7" cy="763.4" r="4.4"/><circle cx="1748.0" cy="759.6" r="4.4"/><circle cx="1749.7" cy="768.3" r="4.4"/><circle cx="1748.9" cy="776.6" r="4.4"/><circle cx="1750.8" cy="787.4" r="4.4"/><circle cx="1759.3" cy="792.9" r="4.4"/><circle cx="1765.2" cy="793.1" r="4.4"/><circle cx="1761.1" cy="800.5" r="4.4"/><circle cx="1760.4" cy="805.3" r="4.4"/><circle cx="1753.3" cy="808.6" r="4.4"/><circle cx="1744.5" cy="812.5" r="4.4"/><circle cx="1737.8" cy="817.4" r="4.4"/><circle cx="1731.2" cy="825.7" r="4.4"/><circle cx="1722.8" cy="826.5" r="4.4"/><circle cx="1715.5" cy="829.0" r="4.4"/><circle cx="1707.9" cy="830.5" r="4.4"/><circle cx="1699.4" cy="831.5" r="4.4"/><circle cx="1691.4" cy="833.3" r="4.4"/><circle cx="1685.1" cy="833.6" r="4.4"/><circle cx="1676.4" cy="833.5" r="4.4"/><circle cx="1670.4" cy="834.4" r="4.4"/><circle cx="1661.3" cy="834.7" r="4.4"/><circle cx="1655.7" cy="834.7" r="4.4"/><circle cx="1646.5" cy="835.5" r="4.4"/><circle cx="1640.2" cy="837.3" r="4.4"/><circle cx="1631.5" cy="836.4" r="4.4"/><circle cx="1624.4" cy="837.4" r="4.4"/><circle cx="1618.3" cy="837.7" r="4.4"/><circle cx="1610.1" cy="837.2" r="4.4"/><circle cx="1604.0" cy="837.9" r="4.4"/><circle cx="1594.2" cy="837.9" r="4.4"/><circle cx="1586.4" cy="835.9" r="4.4"/><circle cx="1580.8" cy="836.4" r="4.4"/><circle cx="1572.5" cy="834.9" r="4.4"/><circle cx="1563.8" cy="834.9" r="4.4"/><circle cx="1555.6" cy="832.7" r="4.4"/><circle cx="1548.2" cy="831.1" r="4.4"/><circle cx="1540.3" cy="831.7" r="4.4"/><circle cx="1533.0" cy="829.9" r="4.4"/><circle cx="1524.8" cy="828.6" r="4.4"/><circle cx="1516.1" cy="827.9" r="4.4"/><circle cx="1508.7" cy="826.0" r="4.4"/><circle cx="1501.9" cy="823.0" r="4.4"/><circle cx="1493.1" cy="821.5" r="4.4"/><circle cx="1484.1" cy="817.9" r="4.4"/><circle cx="1476.8" cy="818.8" r="4.4"/><circle cx="1468.9" cy="817.7" r="4.4"/><circle cx="1461.1" cy="816.9" r="4.4"/><circle cx="1452.6" cy="815.7" r="4.4"/><circle cx="1443.8" cy="815.5" r="4.4"/><circle cx="1436.3" cy="814.5" r="4.4"/><circle cx="1429.9" cy="812.2" r="4.4"/></g>
<polygon points="1483.0,790.0 1569.0,790.0 1569.0,758.0 1560.0,745.0 1530.0,742.0 1500.0,746.0 1482.0,760.0 1480.0,775.0" fill="#0b0906" stroke="#0b0906" stroke-width="1" stroke-linejoin="round"/>
<g fill="#0b0906"><circle cx="1429.4" cy="288.2" r="4.4"/><circle cx="1429.3" cy="370.2" r="4.4"/><circle cx="1433.3" cy="473.9" r="4.4"/><circle cx="1420.3" cy="487.6" r="4.4"/><circle cx="1430.2" cy="499.9" r="4.4"/><circle cx="1481.6" cy="513.7" r="4.4"/><circle cx="1344.0" cy="591.5" r="4.4"/><circle cx="1243.2" cy="675.7" r="4.4"/><circle cx="1424.0" cy="610.5" r="4.4"/><circle cx="1415.1" cy="670.8" r="4.4"/><circle cx="1413.4" cy="698.2" r="4.4"/><circle cx="1412.0" cy="707.4" r="4.4"/><circle cx="1401.9" cy="727.2" r="4.4"/><circle cx="1414.3" cy="727.6" r="4.4"/><circle cx="1420.0" cy="733.5" r="4.4"/><circle cx="1427.3" cy="749.1" r="4.4"/><circle cx="1431.2" cy="749.3" r="4.4"/><circle cx="1476.0" cy="566.4" r="4.4"/><circle cx="1504.8" cy="567.2" r="4.4"/><circle cx="1446.1" cy="578.1" r="4.4"/><circle cx="1471.0" cy="577.0" r="4.4"/><circle cx="1453.7" cy="591.8" r="4.4"/><circle cx="1450.0" cy="599.7" r="4.4"/><circle cx="1486.4" cy="601.3" r="4.4"/><circle cx="1464.8" cy="612.5" r="4.4"/><circle cx="1474.8" cy="620.1" r="4.4"/><circle cx="1452.4" cy="625.7" r="4.4"/><circle cx="1481.0" cy="629.6" r="4.4"/><circle cx="1511.6" cy="628.1" r="4.4"/><circle cx="1487.6" cy="638.5" r="4.4"/><circle cx="1478.2" cy="644.2" r="4.4"/><circle cx="1483.9" cy="648.7" r="4.4"/><circle cx="1482.8" cy="655.5" r="4.4"/><circle cx="1506.3" cy="651.9" r="4.4"/><circle cx="1510.0" cy="654.6" r="4.4"/><circle cx="1516.7" cy="659.4" r="4.4"/><circle cx="1500.3" cy="662.7" r="4.4"/><circle cx="1507.8" cy="660.9" r="4.4"/><circle cx="1513.4" cy="667.6" r="4.4"/><circle cx="1530.6" cy="657.5" r="4.4"/><circle cx="1474.9" cy="669.9" r="4.4"/><circle cx="1471.5" cy="676.1" r="4.4"/><circle cx="1483.9" cy="685.5" r="4.4"/><circle cx="1487.6" cy="684.0" r="4.4"/><circle cx="1494.6" cy="686.0" r="4.4"/><circle cx="1460.0" cy="695.2" r="4.4"/><circle cx="1445.1" cy="704.9" r="4.4"/><circle cx="1553.3" cy="699.0" r="4.4"/><circle cx="1554.8" cy="707.9" r="4.4"/><circle cx="1489.9" cy="699.7" r="4.4"/><circle cx="1487.6" cy="701.2" r="4.4"/><circle cx="1466.7" cy="710.1" r="4.4"/><circle cx="1463.0" cy="716.1" r="4.4"/><circle cx="1483.6" cy="710.1" r="4.4"/><circle cx="1458.3" cy="760.4" r="4.4"/><circle cx="1460.7" cy="765.2" r="4.4"/><circle cx="1450.3" cy="748.4" r="4.4"/><circle cx="1448.0" cy="755.6" r="4.4"/><circle cx="1472.7" cy="726.5" r="4.4"/><circle cx="1483.0" cy="710.5" r="4.4"/><circle cx="1493.5" cy="710.0" r="4.4"/><circle cx="1490.3" cy="700.4" r="4.4"/><circle cx="1521.9" cy="679.6" r="4.4"/><circle cx="1521.9" cy="684.5" r="4.4"/><circle cx="1530.9" cy="682.5" r="4.4"/><circle cx="1515.2" cy="689.3" r="4.4"/><circle cx="1528.7" cy="690.7" r="4.4"/><circle cx="1534.6" cy="693.0" r="4.4"/><circle cx="1542.8" cy="690.0" r="4.4"/><circle cx="1516.7" cy="696.7" r="4.4"/><circle cx="1526.4" cy="702.7" r="4.4"/><circle cx="1535.8" cy="704.5" r="4.4"/><circle cx="1493.6" cy="710.1" r="4.4"/><circle cx="1503.3" cy="714.6" r="4.4"/><circle cx="1517.5" cy="709.4" r="4.4"/><circle cx="1528.7" cy="711.6" r="4.4"/><circle cx="1558.6" cy="720.5" r="4.4"/><circle cx="1556.4" cy="729.8" r="4.4"/><circle cx="1544.6" cy="713.9" r="4.4"/><circle cx="1506.4" cy="738.9" r="4.4"/><circle cx="1548.9" cy="712.3" r="4.4"/><circle cx="1487.8" cy="721.0" r="4.4"/><circle cx="1517.8" cy="720.3" r="4.4"/><circle cx="1478.3" cy="714.9" r="4.4"/><circle cx="1538.5" cy="740.9" r="4.4"/><circle cx="1526.0" cy="727.0" r="4.4"/><circle cx="1528.7" cy="717.2" r="4.4"/><circle cx="1508.0" cy="728.3" r="4.4"/><circle cx="1508.6" cy="731.4" r="4.4"/><circle cx="1510.7" cy="722.5" r="4.4"/><circle cx="1515.0" cy="714.4" r="4.4"/><circle cx="1542.4" cy="736.2" r="4.4"/><circle cx="1511.8" cy="712.2" r="4.4"/><circle cx="1513.3" cy="709.3" r="4.4"/><circle cx="1478.8" cy="722.2" r="4.4"/><circle cx="1475.2" cy="722.7" r="4.4"/><circle cx="1539.3" cy="736.1" r="4.4"/><circle cx="1516.4" cy="720.1" r="4.4"/><circle cx="1551.7" cy="744.8" r="4.4"/><circle cx="1539.2" cy="737.6" r="4.4"/><circle cx="1485.4" cy="744.3" r="4.4"/><circle cx="1515.2" cy="743.3" r="4.4"/><circle cx="1544.8" cy="742.2" r="4.4"/><circle cx="1555.7" cy="716.0" r="4.4"/><circle cx="1516.2" cy="741.8" r="4.4"/><circle cx="1486.8" cy="715.5" r="4.4"/><circle cx="1516.6" cy="717.8" r="4.4"/><circle cx="1482.1" cy="742.5" r="4.4"/><circle cx="1534.0" cy="740.8" r="4.4"/><circle cx="1482.9" cy="736.4" r="4.4"/><circle cx="1477.5" cy="726.2" r="4.4"/><circle cx="1529.6" cy="719.4" r="4.4"/><circle cx="1553.3" cy="727.2" r="4.4"/><circle cx="1524.0" cy="740.3" r="4.4"/><circle cx="1476.5" cy="744.7" r="4.4"/><circle cx="1529.0" cy="720.8" r="4.4"/><circle cx="1545.8" cy="715.6" r="4.4"/><circle cx="1502.0" cy="735.6" r="4.4"/><circle cx="1510.2" cy="712.1" r="4.4"/><circle cx="1548.0" cy="715.1" r="4.4"/><circle cx="1529.9" cy="744.4" r="4.4"/><circle cx="1524.6" cy="731.5" r="4.4"/><circle cx="1527.6" cy="722.3" r="4.4"/><circle cx="1517.3" cy="740.8" r="4.4"/><circle cx="1476.6" cy="719.3" r="4.4"/><circle cx="1488.4" cy="728.3" r="4.4"/><circle cx="1524.9" cy="713.2" r="4.4"/><circle cx="1528.4" cy="724.0" r="4.4"/><circle cx="1479.5" cy="742.5" r="4.4"/><circle cx="1490.4" cy="711.0" r="4.4"/><circle cx="1475.6" cy="730.5" r="4.4"/><circle cx="1553.1" cy="736.3" r="4.4"/><circle cx="1506.2" cy="715.6" r="4.4"/><circle cx="1522.2" cy="719.0" r="4.4"/><circle cx="1530.6" cy="722.8" r="4.4"/><circle cx="1559.7" cy="734.3" r="4.4"/><circle cx="1490.8" cy="741.1" r="4.4"/><circle cx="1506.6" cy="714.5" r="4.4"/><circle cx="1471.8" cy="736.2" r="4.4"/><circle cx="1486.0" cy="729.3" r="4.4"/><circle cx="1516.7" cy="730.7" r="4.4"/><circle cx="1496.9" cy="717.0" r="4.4"/><circle cx="1470.8" cy="740.6" r="4.4"/><circle cx="1544.3" cy="733.6" r="4.4"/><circle cx="1540.5" cy="723.6" r="4.4"/><circle cx="1540.2" cy="723.1" r="4.4"/><circle cx="1532.3" cy="742.8" r="4.4"/><circle cx="1511.9" cy="755.7" r="4.4"/><circle cx="1531.5" cy="752.8" r="4.4"/><circle cx="1536.8" cy="785.6" r="4.4"/><circle cx="1488.1" cy="768.2" r="4.4"/><circle cx="1547.0" cy="751.5" r="4.4"/><circle cx="1518.5" cy="788.4" r="4.4"/><circle cx="1473.8" cy="761.2" r="4.4"/><circle cx="1485.9" cy="776.3" r="4.4"/><circle cx="1563.1" cy="759.7" r="4.4"/><circle cx="1480.0" cy="763.2" r="4.4"/><circle cx="1523.6" cy="772.2" r="4.4"/><circle cx="1520.7" cy="767.3" r="4.4"/><circle cx="1552.1" cy="759.9" r="4.4"/><circle cx="1510.6" cy="786.7" r="4.4"/><circle cx="1490.8" cy="770.1" r="4.4"/><circle cx="1508.9" cy="775.1" r="4.4"/><circle cx="1497.2" cy="752.2" r="4.4"/><circle cx="1471.3" cy="753.4" r="4.4"/><circle cx="1511.6" cy="771.0" r="4.4"/><circle cx="1504.9" cy="743.7" r="4.4"/><circle cx="1492.2" cy="773.7" r="4.4"/><circle cx="1563.1" cy="760.2" r="4.4"/><circle cx="1491.7" cy="777.5" r="4.4"/><circle cx="1508.8" cy="740.4" r="4.4"/><circle cx="1482.8" cy="775.9" r="4.4"/><circle cx="1550.1" cy="767.0" r="4.4"/><circle cx="1516.4" cy="762.4" r="4.4"/><circle cx="1492.4" cy="787.7" r="4.4"/><circle cx="1505.0" cy="767.2" r="4.4"/><circle cx="1551.1" cy="778.4" r="4.4"/><circle cx="1516.3" cy="745.5" r="4.4"/><circle cx="1524.3" cy="734.9" r="4.4"/><circle cx="1552.5" cy="749.3" r="4.4"/><circle cx="1554.2" cy="743.8" r="4.4"/><circle cx="1507.2" cy="743.0" r="4.4"/><circle cx="1512.2" cy="738.7" r="4.4"/><circle cx="1497.8" cy="742.4" r="4.4"/><circle cx="1499.9" cy="757.2" r="4.4"/><circle cx="1512.4" cy="767.1" r="4.4"/><circle cx="1535.3" cy="749.8" r="4.4"/><circle cx="1561.9" cy="780.8" r="4.4"/><circle cx="1559.7" cy="776.4" r="4.4"/><circle cx="1483.9" cy="779.4" r="4.4"/><circle cx="1532.7" cy="727.9" r="4.4"/><circle cx="1534.9" cy="742.8" r="4.4"/><circle cx="1493.1" cy="775.9" r="4.4"/><circle cx="1504.3" cy="736.6" r="4.4"/><circle cx="1559.5" cy="776.9" r="4.4"/><circle cx="1486.6" cy="783.1" r="4.4"/><circle cx="1530.2" cy="776.2" r="4.4"/><circle cx="1536.2" cy="783.3" r="4.4"/><circle cx="1548.0" cy="779.8" r="4.4"/><circle cx="1489.5" cy="770.6" r="4.4"/><circle cx="1522.5" cy="773.7" r="4.4"/><circle cx="1513.4" cy="782.6" r="4.4"/><circle cx="1525.0" cy="743.7" r="4.4"/><circle cx="1493.2" cy="735.8" r="4.4"/><circle cx="1518.8" cy="730.7" r="4.4"/><circle cx="1516.2" cy="736.1" r="4.4"/><circle cx="1518.6" cy="758.4" r="4.4"/><circle cx="1523.4" cy="781.4" r="4.4"/><circle cx="1516.3" cy="762.4" r="4.4"/><circle cx="1535.9" cy="780.0" r="4.4"/><circle cx="1507.1" cy="753.4" r="4.4"/><circle cx="1533.1" cy="767.1" r="4.4"/><circle cx="1472.8" cy="765.4" r="4.4"/><circle cx="1537.6" cy="785.7" r="4.4"/><circle cx="1502.7" cy="788.8" r="4.4"/><circle cx="1520.6" cy="757.5" r="4.4"/><circle cx="1541.1" cy="766.4" r="4.4"/><circle cx="1503.5" cy="781.3" r="4.4"/><circle cx="1506.2" cy="756.9" r="4.4"/><circle cx="1522.0" cy="775.5" r="4.4"/><circle cx="1490.9" cy="754.4" r="4.4"/><circle cx="1511.8" cy="761.9" r="4.4"/><circle cx="1551.8" cy="745.5" r="4.4"/><circle cx="1551.9" cy="752.4" r="4.4"/><circle cx="1519.9" cy="744.1" r="4.4"/><circle cx="1520.1" cy="788.4" r="4.4"/><circle cx="1534.8" cy="776.9" r="4.4"/><circle cx="1502.8" cy="747.0" r="4.4"/><circle cx="1499.6" cy="763.9" r="4.4"/><circle cx="1532.8" cy="776.4" r="4.4"/><circle cx="1474.0" cy="772.5" r="4.4"/><circle cx="1557.7" cy="761.4" r="4.4"/><circle cx="1474.9" cy="745.9" r="4.4"/><circle cx="1561.2" cy="765.3" r="4.4"/><circle cx="1535.1" cy="776.7" r="4.4"/><circle cx="1560.1" cy="765.5" r="4.4"/><circle cx="1531.1" cy="766.5" r="4.4"/><circle cx="1538.9" cy="764.6" r="4.4"/><circle cx="1537.4" cy="740.4" r="4.4"/><circle cx="1536.0" cy="755.8" r="4.4"/><circle cx="1545.5" cy="733.4" r="4.4"/><circle cx="1546.7" cy="784.6" r="4.4"/><circle cx="1534.9" cy="750.2" r="4.4"/><circle cx="1551.4" cy="776.6" r="4.4"/><circle cx="1525.6" cy="743.3" r="4.4"/><circle cx="1499.9" cy="753.6" r="4.4"/><circle cx="1501.5" cy="754.1" r="4.4"/><circle cx="1533.5" cy="785.8" r="4.4"/><circle cx="1475.4" cy="762.8" r="4.4"/><circle cx="1550.2" cy="763.2" r="4.4"/><circle cx="1560.9" cy="755.1" r="4.4"/><circle cx="1528.6" cy="786.1" r="4.4"/><circle cx="1567.1" cy="757.0" r="4.4"/><circle cx="1510.8" cy="733.4" r="4.4"/><circle cx="1533.8" cy="740.4" r="4.4"/><circle cx="1478.7" cy="781.8" r="4.4"/><circle cx="1541.2" cy="742.3" r="4.4"/><circle cx="1542.6" cy="738.8" r="4.4"/><circle cx="1475.0" cy="775.8" r="4.4"/><circle cx="1540.6" cy="780.9" r="4.4"/><circle cx="1542.2" cy="732.3" r="4.4"/><circle cx="1532.2" cy="771.7" r="4.4"/><circle cx="1515.6" cy="785.7" r="4.4"/><circle cx="1495.2" cy="787.8" r="4.4"/><circle cx="1541.0" cy="727.7" r="4.4"/><circle cx="1550.9" cy="732.0" r="4.4"/><circle cx="1500.8" cy="773.0" r="4.4"/><circle cx="1486.4" cy="781.2" r="4.4"/><circle cx="1518.1" cy="730.8" r="4.4"/><circle cx="1506.4" cy="763.2" r="4.4"/><circle cx="1513.4" cy="769.6" r="4.4"/><circle cx="1484.3" cy="777.2" r="4.4"/><circle cx="1506.0" cy="767.6" r="4.4"/><circle cx="1532.3" cy="753.3" r="4.4"/><circle cx="1508.2" cy="776.5" r="4.4"/><circle cx="1563.5" cy="776.4" r="4.4"/><circle cx="1526.1" cy="745.4" r="4.4"/><circle cx="1539.6" cy="779.1" r="4.4"/><circle cx="1502.9" cy="765.2" r="4.4"/><circle cx="1566.8" cy="779.4" r="4.4"/><circle cx="1529.5" cy="746.4" r="4.4"/><circle cx="1512.4" cy="783.0" r="4.4"/><circle cx="1507.3" cy="770.1" r="4.4"/><circle cx="1529.6" cy="783.5" r="4.4"/><circle cx="1549.9" cy="744.8" r="4.4"/><circle cx="1511.8" cy="764.0" r="4.4"/><circle cx="1550.8" cy="782.9" r="4.4"/><circle cx="1550.4" cy="781.6" r="4.4"/><circle cx="1526.6" cy="744.3" r="4.4"/><circle cx="1554.3" cy="777.8" r="4.4"/><circle cx="1537.8" cy="784.6" r="4.4"/><circle cx="1504.3" cy="732.4" r="4.4"/><circle cx="1524.8" cy="777.2" r="4.4"/><circle cx="1489.8" cy="774.3" r="4.4"/><circle cx="1562.2" cy="741.7" r="4.4"/><circle cx="1530.1" cy="769.7" r="4.4"/><circle cx="1516.1" cy="740.0" r="4.4"/><circle cx="1495.2" cy="774.3" r="4.4"/><circle cx="1548.4" cy="756.0" r="4.4"/><circle cx="1478.7" cy="777.8" r="4.4"/><circle cx="1546.4" cy="741.7" r="4.4"/><circle cx="1527.4" cy="783.5" r="4.4"/><circle cx="1557.6" cy="759.9" r="4.4"/><circle cx="1517.2" cy="764.1" r="4.4"/><circle cx="1488.7" cy="739.1" r="4.4"/><circle cx="1487.9" cy="771.2" r="4.4"/><circle cx="1482.7" cy="787.2" r="4.4"/><circle cx="1488.9" cy="787.0" r="4.4"/><circle cx="1494.4" cy="785.9" r="4.4"/><circle cx="1502.6" cy="786.7" r="4.4"/><circle cx="1506.6" cy="787.3" r="4.4"/><circle cx="1514.4" cy="786.2" r="4.4"/><circle cx="1520.1" cy="786.6" r="4.4"/><circle cx="1526.0" cy="785.8" r="4.4"/><circle cx="1531.0" cy="788.2" r="4.4"/><circle cx="1539.2" cy="787.0" r="4.4"/><circle cx="1544.6" cy="786.4" r="4.4"/><circle cx="1551.2" cy="786.8" r="4.4"/><circle cx="1557.8" cy="787.6" r="4.4"/><circle cx="1563.6" cy="788.1" r="4.4"/><circle cx="1565.4" cy="788.9" r="4.4"/><circle cx="1565.3" cy="782.8" r="4.4"/><circle cx="1565.0" cy="776.1" r="4.4"/><circle cx="1566.1" cy="771.7" r="4.4"/><circle cx="1565.9" cy="765.5" r="4.4"/><circle cx="1567.5" cy="758.7" r="4.4"/><circle cx="1562.3" cy="753.0" r="4.4"/><circle cx="1558.8" cy="749.1" r="4.4"/><circle cx="1553.1" cy="747.5" r="4.4"/><circle cx="1548.0" cy="747.9" r="4.4"/><circle cx="1542.1" cy="745.9" r="4.4"/><circle cx="1535.6" cy="744.8" r="4.4"/><circle cx="1531.5" cy="746.2" r="4.4"/><circle cx="1523.7" cy="744.7" r="4.4"/><circle cx="1517.8" cy="746.2" r="4.4"/><circle cx="1513.4" cy="748.3" r="4.4"/><circle cx="1507.2" cy="747.1" r="4.4"/><circle cx="1502.5" cy="748.9" r="4.4"/><circle cx="1496.2" cy="754.2" r="4.4"/><circle cx="1488.8" cy="756.8" r="4.4"/><circle cx="1485.6" cy="761.5" r="4.4"/><circle cx="1484.4" cy="767.4" r="4.4"/><circle cx="1483.2" cy="775.0" r="4.4"/><circle cx="1483.5" cy="781.5" r="4.4"/></g>
<polygon points="1668.0,791.0 1750.0,791.0 1751.0,775.0 1748.0,755.0 1730.0,752.0 1700.0,750.0 1668.0,750.0" fill="#9c2a24" stroke="#9c2a24" stroke-width="1" stroke-linejoin="round"/>
<g fill="#9c2a24"><circle cx="1727.8" cy="491.9" r="4.4"/><circle cx="1765.8" cy="537.2" r="4.4"/><circle cx="1735.9" cy="555.6" r="4.4"/><circle cx="1784.9" cy="559.4" r="4.4"/><circle cx="1724.0" cy="564.9" r="4.4"/><circle cx="1756.1" cy="569.5" r="4.4"/><circle cx="1706.6" cy="591.7" r="4.4"/><circle cx="1725.3" cy="604.8" r="4.4"/><circle cx="1728.8" cy="605.5" r="4.4"/><circle cx="1726.0" cy="620.8" r="4.4"/><circle cx="1726.0" cy="625.6" r="4.4"/><circle cx="1740.6" cy="621.9" r="4.4"/><circle cx="1773.2" cy="632.6" r="4.4"/><circle cx="1784.7" cy="635.3" r="4.4"/><circle cx="1695.1" cy="640.9" r="4.4"/><circle cx="1725.3" cy="636.7" r="4.4"/><circle cx="1728.4" cy="641.6" r="4.4"/><circle cx="1742.9" cy="640.9" r="4.4"/><circle cx="1711.2" cy="648.2" r="4.4"/><circle cx="1737.8" cy="648.5" r="4.4"/><circle cx="1733.9" cy="654.7" r="4.4"/><circle cx="1742.7" cy="654.7" r="4.4"/><circle cx="1755.8" cy="659.6" r="4.4"/><circle cx="1755.8" cy="663.0" r="4.4"/><circle cx="1714.9" cy="669.0" r="4.4"/><circle cx="1723.3" cy="675.5" r="4.4"/><circle cx="1717.7" cy="680.4" r="4.4"/><circle cx="1735.7" cy="674.8" r="4.4"/><circle cx="1748.6" cy="670.7" r="4.4"/><circle cx="1696.6" cy="679.0" r="4.4"/><circle cx="1783.5" cy="680.4" r="4.4"/><circle cx="1816.5" cy="676.2" r="4.4"/><circle cx="1748.2" cy="683.8" r="4.4"/><circle cx="1774.5" cy="697.0" r="4.4"/><circle cx="1769.0" cy="704.6" r="4.4"/><circle cx="1673.3" cy="713.8" r="4.4"/><circle cx="1771.2" cy="723.9" r="4.4"/><circle cx="1794.2" cy="755.6" r="4.4"/><circle cx="1771.9" cy="759.9" r="4.4"/><circle cx="1772.6" cy="740.4" r="4.4"/><circle cx="1772.6" cy="746.2" r="4.4"/><circle cx="1774.1" cy="750.5" r="4.4"/><circle cx="1762.6" cy="743.0" r="4.4"/><circle cx="1754.0" cy="734.7" r="4.4"/><circle cx="1753.2" cy="740.4" r="4.4"/><circle cx="1753.9" cy="759.2" r="4.4"/><circle cx="1744.6" cy="718.1" r="4.4"/><circle cx="1745.3" cy="723.2" r="4.4"/><circle cx="1746.0" cy="728.2" r="4.4"/><circle cx="1730.9" cy="710.2" r="4.4"/><circle cx="1738.1" cy="708.1" r="4.4"/><circle cx="1748.2" cy="683.6" r="4.4"/><circle cx="1783.4" cy="681.4" r="4.4"/><circle cx="1713.6" cy="693.7" r="4.4"/><circle cx="1723.7" cy="693.7" r="4.4"/><circle cx="1732.3" cy="693.7" r="4.4"/><circle cx="1688.8" cy="706.5" r="4.4"/><circle cx="1707.0" cy="708.8" r="4.4"/><circle cx="1687.3" cy="707.4" r="4.4"/><circle cx="1670.9" cy="748.2" r="4.4"/><circle cx="1685.9" cy="748.6" r="4.4"/><circle cx="1738.2" cy="746.2" r="4.4"/><circle cx="1679.3" cy="723.3" r="4.4"/><circle cx="1675.9" cy="748.3" r="4.4"/><circle cx="1704.6" cy="717.7" r="4.4"/><circle cx="1734.7" cy="724.8" r="4.4"/><circle cx="1718.9" cy="707.4" r="4.4"/><circle cx="1686.0" cy="702.9" r="4.4"/><circle cx="1725.8" cy="728.8" r="4.4"/><circle cx="1679.7" cy="745.3" r="4.4"/><circle cx="1689.6" cy="721.4" r="4.4"/><circle cx="1680.6" cy="714.1" r="4.4"/><circle cx="1681.6" cy="725.5" r="4.4"/><circle cx="1693.8" cy="747.0" r="4.4"/><circle cx="1677.2" cy="750.9" r="4.4"/><circle cx="1672.6" cy="746.5" r="4.4"/><circle cx="1722.1" cy="711.0" r="4.4"/><circle cx="1706.7" cy="714.9" r="4.4"/><circle cx="1688.9" cy="710.5" r="4.4"/><circle cx="1697.5" cy="751.5" r="4.4"/><circle cx="1675.9" cy="715.1" r="4.4"/><circle cx="1726.8" cy="715.3" r="4.4"/><circle cx="1735.4" cy="727.4" r="4.4"/><circle cx="1683.1" cy="722.6" r="4.4"/><circle cx="1714.3" cy="707.2" r="4.4"/><circle cx="1682.6" cy="740.1" r="4.4"/><circle cx="1674.4" cy="704.5" r="4.4"/><circle cx="1717.3" cy="725.8" r="4.4"/><circle cx="1690.2" cy="710.7" r="4.4"/><circle cx="1717.6" cy="736.8" r="4.4"/><circle cx="1733.7" cy="730.3" r="4.4"/><circle cx="1684.4" cy="703.4" r="4.4"/><circle cx="1727.3" cy="721.2" r="4.4"/><circle cx="1707.9" cy="700.8" r="4.4"/><circle cx="1683.1" cy="743.2" r="4.4"/><circle cx="1697.7" cy="708.5" r="4.4"/><circle cx="1698.1" cy="730.9" r="4.4"/><circle cx="1668.4" cy="727.0" r="4.4"/><circle cx="1704.1" cy="726.8" r="4.4"/><circle cx="1677.8" cy="737.2" r="4.4"/><circle cx="1734.1" cy="745.0" r="4.4"/><circle cx="1694.0" cy="737.0" r="4.4"/><circle cx="1698.9" cy="739.1" r="4.4"/><circle cx="1673.0" cy="745.4" r="4.4"/><circle cx="1709.6" cy="727.6" r="4.4"/><circle cx="1711.5" cy="701.1" r="4.4"/><circle cx="1682.8" cy="705.3" r="4.4"/><circle cx="1688.3" cy="742.5" r="4.4"/><circle cx="1669.4" cy="731.2" r="4.4"/><circle cx="1714.7" cy="727.2" r="4.4"/><circle cx="1708.0" cy="726.0" r="4.4"/><circle cx="1690.6" cy="706.3" r="4.4"/><circle cx="1700.9" cy="707.1" r="4.4"/><circle cx="1715.9" cy="744.8" r="4.4"/><circle cx="1679.9" cy="729.8" r="4.4"/><circle cx="1734.9" cy="748.8" r="4.4"/><circle cx="1699.5" cy="721.9" r="4.4"/><circle cx="1736.0" cy="727.3" r="4.4"/><circle cx="1700.0" cy="748.9" r="4.4"/><circle cx="1687.5" cy="717.4" r="4.4"/><circle cx="1703.3" cy="751.0" r="4.4"/><circle cx="1733.2" cy="747.5" r="4.4"/><circle cx="1734.0" cy="744.1" r="4.4"/><circle cx="1672.3" cy="726.9" r="4.4"/><circle cx="1688.2" cy="722.0" r="4.4"/><circle cx="1719.2" cy="719.0" r="4.4"/><circle cx="1711.0" cy="703.6" r="4.4"/><circle cx="1703.1" cy="726.2" r="4.4"/><circle cx="1733.6" cy="746.0" r="4.4"/><circle cx="1720.0" cy="713.8" r="4.4"/><circle cx="1723.0" cy="714.2" r="4.4"/><circle cx="1711.9" cy="748.1" r="4.4"/><circle cx="1718.3" cy="713.0" r="4.4"/><circle cx="1710.1" cy="722.6" r="4.4"/><circle cx="1692.7" cy="733.7" r="4.4"/><circle cx="1677.8" cy="730.9" r="4.4"/><circle cx="1689.7" cy="724.3" r="4.4"/><circle cx="1711.2" cy="707.7" r="4.4"/><circle cx="1678.0" cy="706.8" r="4.4"/><circle cx="1691.8" cy="721.1" r="4.4"/><circle cx="1691.4" cy="712.7" r="4.4"/><circle cx="1675.1" cy="728.4" r="4.4"/><circle cx="1714.2" cy="733.8" r="4.4"/><circle cx="1684.3" cy="736.9" r="4.4"/><circle cx="1705.3" cy="728.5" r="4.4"/><circle cx="1717.6" cy="724.4" r="4.4"/><circle cx="1693.2" cy="712.6" r="4.4"/><circle cx="1685.9" cy="726.6" r="4.4"/><circle cx="1699.0" cy="730.5" r="4.4"/><circle cx="1669.0" cy="718.3" r="4.4"/><circle cx="1713.1" cy="725.6" r="4.4"/><circle cx="1691.1" cy="751.4" r="4.4"/><circle cx="1691.9" cy="740.2" r="4.4"/><circle cx="1680.8" cy="703.5" r="4.4"/><circle cx="1673.0" cy="720.2" r="4.4"/><circle cx="1703.6" cy="738.2" r="4.4"/><circle cx="1676.8" cy="711.7" r="4.4"/><circle cx="1680.5" cy="717.5" r="4.4"/><circle cx="1696.5" cy="735.1" r="4.4"/><circle cx="1717.9" cy="744.2" r="4.4"/><circle cx="1734.5" cy="726.9" r="4.4"/><circle cx="1727.8" cy="738.7" r="4.4"/><circle cx="1729.5" cy="724.7" r="4.4"/><circle cx="1730.0" cy="730.5" r="4.4"/><circle cx="1708.3" cy="750.1" r="4.4"/><circle cx="1714.3" cy="721.7" r="4.4"/><circle cx="1731.5" cy="745.4" r="4.4"/><circle cx="1717.2" cy="719.7" r="4.4"/><circle cx="1704.6" cy="723.8" r="4.4"/><circle cx="1726.6" cy="715.2" r="4.4"/><circle cx="1699.6" cy="728.9" r="4.4"/><circle cx="1699.1" cy="716.7" r="4.4"/><circle cx="1731.8" cy="744.2" r="4.4"/><circle cx="1708.5" cy="723.1" r="4.4"/><circle cx="1682.9" cy="715.8" r="4.4"/><circle cx="1679.7" cy="729.9" r="4.4"/><circle cx="1715.1" cy="704.6" r="4.4"/><circle cx="1702.5" cy="747.3" r="4.4"/><circle cx="1713.8" cy="725.9" r="4.4"/><circle cx="1711.6" cy="751.9" r="4.4"/><circle cx="1709.9" cy="726.9" r="4.4"/><circle cx="1723.5" cy="720.3" r="4.4"/><circle cx="1697.0" cy="730.9" r="4.4"/><circle cx="1696.4" cy="749.3" r="4.4"/><circle cx="1722.8" cy="727.3" r="4.4"/><circle cx="1676.0" cy="719.5" r="4.4"/><circle cx="1700.5" cy="729.2" r="4.4"/><circle cx="1714.5" cy="745.8" r="4.4"/><circle cx="1703.7" cy="732.5" r="4.4"/><circle cx="1710.9" cy="742.4" r="4.4"/><circle cx="1681.8" cy="716.5" r="4.4"/><circle cx="1709.5" cy="705.7" r="4.4"/><circle cx="1734.5" cy="751.5" r="4.4"/><circle cx="1680.7" cy="715.1" r="4.4"/><circle cx="1709.4" cy="726.3" r="4.4"/><circle cx="1683.2" cy="709.5" r="4.4"/><circle cx="1719.0" cy="731.4" r="4.4"/><circle cx="1696.6" cy="751.7" r="4.4"/><circle cx="1701.3" cy="741.0" r="4.4"/><circle cx="1692.8" cy="735.9" r="4.4"/><circle cx="1668.3" cy="715.8" r="4.4"/><circle cx="1722.1" cy="710.2" r="4.4"/><circle cx="1708.3" cy="728.8" r="4.4"/><circle cx="1689.5" cy="733.6" r="4.4"/><circle cx="1711.1" cy="751.8" r="4.4"/><circle cx="1714.5" cy="721.4" r="4.4"/><circle cx="1677.8" cy="708.2" r="4.4"/><circle cx="1676.1" cy="708.9" r="4.4"/><circle cx="1710.3" cy="742.8" r="4.4"/><circle cx="1717.7" cy="741.9" r="4.4"/><circle cx="1726.0" cy="718.4" r="4.4"/><circle cx="1681.7" cy="713.9" r="4.4"/><circle cx="1676.1" cy="747.0" r="4.4"/><circle cx="1715.2" cy="718.1" r="4.4"/><circle cx="1704.4" cy="720.1" r="4.4"/><circle cx="1672.4" cy="746.3" r="4.4"/><circle cx="1715.2" cy="749.9" r="4.4"/><circle cx="1703.6" cy="732.2" r="4.4"/><circle cx="1688.2" cy="702.3" r="4.4"/><circle cx="1693.5" cy="746.7" r="4.4"/><circle cx="1716.8" cy="749.9" r="4.4"/><circle cx="1708.1" cy="749.4" r="4.4"/><circle cx="1687.7" cy="720.3" r="4.4"/><circle cx="1693.0" cy="745.5" r="4.4"/><circle cx="1707.2" cy="741.2" r="4.4"/><circle cx="1687.7" cy="709.0" r="4.4"/><circle cx="1697.0" cy="709.7" r="4.4"/><circle cx="1713.5" cy="706.0" r="4.4"/><circle cx="1711.2" cy="720.1" r="4.4"/><circle cx="1700.7" cy="703.4" r="4.4"/><circle cx="1678.0" cy="742.9" r="4.4"/><circle cx="1696.5" cy="712.7" r="4.4"/><circle cx="1683.5" cy="714.7" r="4.4"/><circle cx="1687.2" cy="701.8" r="4.4"/><circle cx="1721.8" cy="717.8" r="4.4"/><circle cx="1680.6" cy="736.7" r="4.4"/><circle cx="1675.5" cy="714.0" r="4.4"/><circle cx="1703.9" cy="743.5" r="4.4"/><circle cx="1696.6" cy="737.6" r="4.4"/><circle cx="1698.5" cy="749.8" r="4.4"/><circle cx="1684.9" cy="749.4" r="4.4"/><circle cx="1708.9" cy="711.8" r="4.4"/><circle cx="1704.7" cy="706.8" r="4.4"/><circle cx="1725.2" cy="713.6" r="4.4"/><circle cx="1697.8" cy="712.8" r="4.4"/><circle cx="1717.3" cy="711.1" r="4.4"/><circle cx="1698.6" cy="696.9" r="4.4"/><circle cx="1687.0" cy="701.4" r="4.4"/><circle cx="1692.5" cy="699.2" r="4.4"/><circle cx="1701.2" cy="692.2" r="4.4"/><circle cx="1682.5" cy="703.0" r="4.4"/><circle cx="1689.4" cy="699.3" r="4.4"/><circle cx="1691.4" cy="696.0" r="4.4"/><circle cx="1688.9" cy="690.5" r="4.4"/><circle cx="1680.1" cy="700.3" r="4.4"/><circle cx="1687.6" cy="694.1" r="4.4"/><circle cx="1717.6" cy="701.5" r="4.4"/><circle cx="1716.4" cy="703.2" r="4.4"/><circle cx="1705.9" cy="693.0" r="4.4"/><circle cx="1693.8" cy="699.2" r="4.4"/><circle cx="1707.6" cy="691.0" r="4.4"/><circle cx="1714.6" cy="693.0" r="4.4"/><circle cx="1704.2" cy="689.6" r="4.4"/><circle cx="1679.5" cy="704.3" r="4.4"/><circle cx="1709.2" cy="700.3" r="4.4"/><circle cx="1688.5" cy="693.6" r="4.4"/><circle cx="1704.6" cy="689.6" r="4.4"/><circle cx="1714.3" cy="697.4" r="4.4"/><circle cx="1708.4" cy="691.1" r="4.4"/><circle cx="1694.9" cy="699.7" r="4.4"/><circle cx="1714.0" cy="701.5" r="4.4"/><circle cx="1715.0" cy="698.1" r="4.4"/><circle cx="1679.3" cy="701.8" r="4.4"/><circle cx="1684.1" cy="704.3" r="4.4"/><circle cx="1668.6" cy="787.0" r="4.4"/><circle cx="1674.8" cy="787.7" r="4.4"/><circle cx="1681.2" cy="788.8" r="4.4"/><circle cx="1686.4" cy="787.0" r="4.4"/><circle cx="1694.3" cy="787.8" r="4.4"/><circle cx="1700.6" cy="788.5" r="4.4"/><circle cx="1706.4" cy="788.8" r="4.4"/><circle cx="1712.5" cy="787.9" r="4.4"/><circle cx="1717.4" cy="788.5" r="4.4"/><circle cx="1724.6" cy="788.0" r="4.4"/><circle cx="1732.1" cy="787.1" r="4.4"/><circle cx="1738.0" cy="786.9" r="4.4"/><circle cx="1744.2" cy="788.7" r="4.4"/><circle cx="1746.4" cy="790.9" r="4.4"/><circle cx="1748.6" cy="783.1" r="4.4"/><circle cx="1748.1" cy="774.8" r="4.4"/><circle cx="1746.0" cy="768.4" r="4.4"/><circle cx="1745.8" cy="761.4" r="4.4"/><circle cx="1747.1" cy="757.1" r="4.4"/><circle cx="1742.0" cy="757.4" r="4.4"/><circle cx="1734.9" cy="755.3" r="4.4"/><circle cx="1729.8" cy="754.9" r="4.4"/><circle cx="1724.8" cy="754.2" r="4.4"/><circle cx="1717.3" cy="755.1" r="4.4"/><circle cx="1710.9" cy="753.9" r="4.4"/><circle cx="1705.4" cy="754.2" r="4.4"/><circle cx="1700.1" cy="753.6" r="4.4"/><circle cx="1692.8" cy="753.4" r="4.4"/><circle cx="1687.4" cy="752.9" r="4.4"/><circle cx="1681.4" cy="753.8" r="4.4"/><circle cx="1673.5" cy="752.5" r="4.4"/><circle cx="1670.7" cy="749.3" r="4.4"/><circle cx="1669.9" cy="756.3" r="4.4"/><circle cx="1670.3" cy="764.2" r="4.4"/><circle cx="1670.9" cy="769.6" r="4.4"/><circle cx="1670.6" cy="777.3" r="4.4"/><circle cx="1670.7" cy="783.4" r="4.4"/></g>
<rect x="125.2" y="165.4" width="794.9" height="712.6" fill="none" stroke="#1a1a1a" stroke-width="1.9"/>
<line x1="206.8" y1="878.0" x2="206.8" y2="891.5" stroke="#1a1a1a" stroke-width="1.9"/>
<text x="193.7" y="927.0" font-size="22.9">−6</text>
<line x1="312.1" y1="878.0" x2="312.1" y2="891.5" stroke="#1a1a1a" stroke-width="1.9"/>
<text x="298.8" y="927.0" font-size="22.9">−4</text>
<line x1="417.4" y1="878.0" x2="417.4" y2="891.5" stroke="#1a1a1a" stroke-width="1.9"/>
<text x="404.3" y="927.0" font-size="22.9">−2</text>
<line x1="522.7" y1="878.0" x2="522.7" y2="891.5" stroke="#1a1a1a" stroke-width="1.9"/>
<text x="516.3" y="927.0" font-size="22.9">0</text>
<line x1="628.0" y1="878.0" x2="628.0" y2="891.5" stroke="#1a1a1a" stroke-width="1.9"/>
<text x="621.6" y="927.0" font-size="22.9">2</text>
<line x1="733.3" y1="878.0" x2="733.3" y2="891.5" stroke="#1a1a1a" stroke-width="1.9"/>
<text x="727.0" y="927.0" font-size="22.9">4</text>
<line x1="838.6" y1="878.0" x2="838.6" y2="891.5" stroke="#1a1a1a" stroke-width="1.9"/>
<text x="832.2" y="927.0" font-size="22.9">6</text>
<line x1="110.7" y1="851.3" x2="125.2" y2="851.3" stroke="#1a1a1a" stroke-width="1.9"/>
<text transform="translate(91.8,857.7) rotate(-90)" font-size="22.9">0</text>
<line x1="110.7" y1="686.3" x2="125.2" y2="686.3" stroke="#1a1a1a" stroke-width="1.9"/>
<text transform="translate(91.8,699.4) rotate(-90)" font-size="22.9">10</text>
<line x1="110.7" y1="521.3" x2="125.2" y2="521.3" stroke="#1a1a1a" stroke-width="1.9"/>
<text transform="translate(91.8,534.2) rotate(-90)" font-size="22.9">20</text>
<line x1="110.7" y1="356.3" x2="125.2" y2="356.3" stroke="#1a1a1a" stroke-width="1.9"/>
<text transform="translate(91.8,369.0) rotate(-90)" font-size="22.9">30</text>
<line x1="110.7" y1="191.3" x2="125.2" y2="191.3" stroke="#1a1a1a" stroke-width="1.9"/>
<text transform="translate(91.8,203.8) rotate(-90)" font-size="22.9">40</text>
<text x="407.1" y="100.0" font-size="32.1">CTCF ChIP-seq</text>
<text x="370.3" y="138.3" font-size="32.1" xml:space="preserve">in WT and <tspan font-style="italic">Tcf7</tspan><tspan font-style="italic" font-size="19.5" dy="-10.3">-/-</tspan><tspan dy="10.3"> DN3</tspan></text>
<text x="218.4" y="245.7" font-size="32.1">258 peaks</text>
<text x="699.8" y="245.7" font-size="32.1">303 peaks</text>
<text x="299.4" y="965.3" font-size="32.1" xml:space="preserve">Log2 fold-change (  <tspan font-style="italic">Tcf7</tspan><tspan font-style="italic" font-size="19.5" dy="-10.3">-/-</tspan><tspan dy="10.3" dx="-2"> / WT)</tspan></text>
<text transform="translate(45.7,628.9) rotate(-90)" font-size="32.1" xml:space="preserve">-log10 (<tspan font-style="italic">P</tspan>)</text>
<rect x="1221.2" y="152.0" width="795.0" height="712.5" fill="none" stroke="#1a1a1a" stroke-width="1.9"/>
<line x1="1303.1" y1="864.5" x2="1303.1" y2="878.0" stroke="#1a1a1a" stroke-width="1.9"/>
<text x="1290.0" y="913.9" font-size="22.9">−6</text>
<line x1="1408.3" y1="864.5" x2="1408.3" y2="878.0" stroke="#1a1a1a" stroke-width="1.9"/>
<text x="1395.0" y="913.9" font-size="22.9">−4</text>
<line x1="1513.5" y1="864.5" x2="1513.5" y2="878.0" stroke="#1a1a1a" stroke-width="1.9"/>
<text x="1500.4" y="913.9" font-size="22.9">−2</text>
<line x1="1618.7" y1="864.5" x2="1618.7" y2="878.0" stroke="#1a1a1a" stroke-width="1.9"/>
<text x="1612.3" y="913.9" font-size="22.9">0</text>
<line x1="1723.9" y1="864.5" x2="1723.9" y2="878.0" stroke="#1a1a1a" stroke-width="1.9"/>
<text x="1717.5" y="913.9" font-size="22.9">2</text>
<line x1="1829.1" y1="864.5" x2="1829.1" y2="878.0" stroke="#1a1a1a" stroke-width="1.9"/>
<text x="1822.8" y="913.9" font-size="22.9">4</text>
<line x1="1934.3" y1="864.5" x2="1934.3" y2="878.0" stroke="#1a1a1a" stroke-width="1.9"/>
<text x="1927.9" y="913.9" font-size="22.9">6</text>
<line x1="1206.7" y1="838.4" x2="1221.2" y2="838.4" stroke="#1a1a1a" stroke-width="1.9"/>
<text transform="translate(1188.3,844.8) rotate(-90)" font-size="22.9">0</text>
<line x1="1206.7" y1="673.4" x2="1221.2" y2="673.4" stroke="#1a1a1a" stroke-width="1.9"/>
<text transform="translate(1188.3,686.5) rotate(-90)" font-size="22.9">10</text>
<line x1="1206.7" y1="508.4" x2="1221.2" y2="508.4" stroke="#1a1a1a" stroke-width="1.9"/>
<text transform="translate(1188.3,521.3) rotate(-90)" font-size="22.9">20</text>
<line x1="1206.7" y1="343.4" x2="1221.2" y2="343.4" stroke="#1a1a1a" stroke-width="1.9"/>
<text transform="translate(1188.3,356.1) rotate(-90)" font-size="22.9">30</text>
<line x1="1206.7" y1="178.4" x2="1221.2" y2="178.4" stroke="#1a1a1a" stroke-width="1.9"/>
<text transform="translate(1188.3,190.9) rotate(-90)" font-size="22.9">40</text>
<text x="1510.7" y="64.8" font-size="32.1">SMC1 ChIP-seq</text>
<text x="1468.3" y="102.4" font-size="32.1" xml:space="preserve">in WT and <tspan font-style="italic">Tcf7</tspan><tspan font-style="italic" font-size="19.5" dy="-10.3">-/-</tspan><tspan dy="10.3"> DN3</tspan></text>
<circle cx="1651" cy="108.6" r="1.4" fill="#222"/>
<text x="1287.9" y="239.2" font-size="32.1">657 peaks</text>
<text x="1783.4" y="239.4" font-size="32.1">607 peaks</text>
<text x="1406.1" y="965.3" font-size="32.1" xml:space="preserve">Log2 fold-change (  <tspan font-style="italic">Tcf7</tspan><tspan font-style="italic" font-size="19.5" dy="-10.3">-/-</tspan><tspan dy="10.3" dx="-2"> / WT)</tspan></text>
<text transform="translate(1130.8,600.1) rotate(-90)" font-size="32.1" xml:space="preserve">-log10 (<tspan font-style="italic">P</tspan>)</text>
<text x="401.1" y="1189.0" font-size="32.1">Motif analysis in TCF-1 dependent</text>
<text x="487.1" y="1227.0" font-size="32.1">SMC1 peaks in DN3</text>
<text x="327.4" y="1327.1" font-size="32.1">Motif</text>
<text x="665.0" y="1325.7" font-size="32.1" font-style="italic">P</text>
<text x="936.9" y="1325.7" font-size="32.1">Best Match</text>
<text x="664.3" y="1440.2" font-size="32.1">1e-380</text>
<text x="974.7" y="1440.2" font-size="32.1">CTCF</text>
<text x="664.3" y="1539.6" font-size="32.1">1e-21</text>
<text x="967.8" y="1539.6" font-size="32.1">ZBTB3</text>
<text x="664.3" y="1626.4" font-size="32.1">1e-21</text>
<text x="991.8" y="1626.4" font-size="32.1">ZIC</text>
<text x="664.3" y="1719.3" font-size="32.1">1e-16</text>
<text x="985.7" y="1719.3" font-size="32.1">EBF</text>
<text x="664.3" y="1902.7" font-size="32.1">1e-38</text>
<text x="971.1" y="1902.7" font-size="32.1">RUNX</text>
<text x="664.3" y="1995.3" font-size="32.1">1e-31</text>
<text x="974.7" y="1995.3" font-size="32.1">CTCF</text>
<text x="664.3" y="2101.0" font-size="32.1">1e-29</text>
<text x="986.7" y="2101.0" font-size="32.1">TCF</text>
<line x1="125.3" y1="1362.5" x2="125.3" y2="1745.8" stroke="#111" stroke-width="3.4"/>
<line x1="127.0" y1="1774.5" x2="127.0" y2="2158.6" stroke="#111" stroke-width="3.4"/>
<text transform="translate(106.5,1721.4) rotate(-90)" font-size="32.1">Gained SMC1 peaks</text>
<text transform="translate(105.8,2097.4) rotate(-90)" font-size="32.1">Lost SMC1 peaks</text>
<text transform="matrix(0.4707 0 0 0.4472 140.71 1412.94)" font-size="100" font-weight="bold" class="lg" style="fill:#f4a40c">G</text>
<text transform="matrix(0.5395 0 0 0.1977 142.05 1428.64)" font-size="100" font-weight="bold" class="lg" style="fill:#d7281c">T</text>
<text transform="matrix(0.4858 0 0 0.1557 140.65 1441.38)" font-size="100" font-weight="bold" class="lg" style="fill:#4343b2">C</text>
<text transform="matrix(0.4735 0 0 0.0852 141.46 1449.74)" font-size="100" font-weight="bold" class="lg" style="fill:#27b224">A</text>
<text transform="matrix(0.4858 0 0 0.7951 175.18 1438.40)" font-size="100" font-weight="bold" class="lg" style="fill:#4343b2">C</text>
<text transform="matrix(0.4735 0 0 0.0614 175.99 1444.12)" font-size="100" font-weight="bold" class="lg" style="fill:#27b224">A</text>
<text transform="matrix(0.5395 0 0 0.0477 176.58 1447.40)" font-size="100" font-weight="bold" class="lg" style="fill:#d7281c">T</text>
<text transform="matrix(0.4707 0 0 0.0331 175.25 1449.71)" font-size="100" font-weight="bold" class="lg" style="fill:#f4a40c">G</text>
<text transform="matrix(0.4858 0 0 0.9441 209.72 1448.80)" font-size="100" font-weight="bold" class="lg" style="fill:#4343b2">C</text>
<text transform="matrix(0.4858 0 0 0.6129 244.26 1424.50)" font-size="100" font-weight="bold" class="lg" style="fill:#4343b2">C</text>
<text transform="matrix(0.4735 0 0 0.3068 245.07 1447.40)" font-size="100" font-weight="bold" class="lg" style="fill:#27b224">A</text>
<text transform="matrix(0.4707 0 0 0.0331 244.32 1449.71)" font-size="100" font-weight="bold" class="lg" style="fill:#f4a40c">G</text>
<text transform="matrix(0.4858 0 0 0.6129 278.79 1424.50)" font-size="100" font-weight="bold" class="lg" style="fill:#4343b2">C</text>
<text transform="matrix(0.5395 0 0 0.3239 280.19 1448.57)" font-size="100" font-weight="bold" class="lg" style="fill:#d7281c">T</text>
<text transform="matrix(0.4858 0 0 0.9441 313.33 1448.80)" font-size="100" font-weight="bold" class="lg" style="fill:#4343b2">C</text>
<text transform="matrix(0.5395 0 0 0.8352 349.27 1440.36)" font-size="100" font-weight="bold" class="lg" style="fill:#d7281c">T</text>
<text transform="matrix(0.4858 0 0 0.1159 347.87 1449.63)" font-size="100" font-weight="bold" class="lg" style="fill:#4343b2">C</text>
<text transform="matrix(0.4735 0 0 0.5455 383.21 1419.25)" font-size="100" font-weight="bold" class="lg" style="fill:#27b224">A</text>
<text transform="matrix(0.4707 0 0 0.2485 382.47 1437.77)" font-size="100" font-weight="bold" class="lg" style="fill:#f4a40c">G</text>
<text transform="matrix(0.5395 0 0 0.0784 383.80 1444.58)" font-size="100" font-weight="bold" class="lg" style="fill:#d7281c">T</text>
<text transform="matrix(0.4858 0 0 0.0663 382.40 1449.68)" font-size="100" font-weight="bold" class="lg" style="fill:#4343b2">C</text>
<text transform="matrix(0.4707 0 0 0.5797 417.00 1424.54)" font-size="100" font-weight="bold" class="lg" style="fill:#f4a40c">G</text>
<text transform="matrix(0.4858 0 0 0.1988 416.94 1440.16)" font-size="100" font-weight="bold" class="lg" style="fill:#4343b2">C</text>
<text transform="matrix(0.4735 0 0 0.1023 417.75 1447.40)" font-size="100" font-weight="bold" class="lg" style="fill:#27b224">A</text>
<text transform="matrix(0.5395 0 0 0.0239 418.34 1449.74)" font-size="100" font-weight="bold" class="lg" style="fill:#d7281c">T</text>
<text transform="matrix(0.5395 0 0 0.7500 452.88 1434.50)" font-size="100" font-weight="bold" class="lg" style="fill:#d7281c">T</text>
<text transform="matrix(0.4858 0 0 0.0828 451.48 1440.28)" font-size="100" font-weight="bold" class="lg" style="fill:#4343b2">C</text>
<text transform="matrix(0.4735 0 0 0.1023 452.28 1447.40)" font-size="100" font-weight="bold" class="lg" style="fill:#27b224">A</text>
<text transform="matrix(0.4707 0 0 0.0331 451.54 1449.71)" font-size="100" font-weight="bold" class="lg" style="fill:#f4a40c">G</text>
<text transform="matrix(0.4707 0 0 0.8779 486.08 1444.18)" font-size="100" font-weight="bold" class="lg" style="fill:#f4a40c">G</text>
<text transform="matrix(0.4735 0 0 0.0614 486.82 1449.74)" font-size="100" font-weight="bold" class="lg" style="fill:#27b224">A</text>
<text transform="matrix(0.4707 0 0 0.5963 520.61 1424.52)" font-size="100" font-weight="bold" class="lg" style="fill:#f4a40c">G</text>
<text transform="matrix(0.5395 0 0 0.2216 521.95 1441.54)" font-size="100" font-weight="bold" class="lg" style="fill:#d7281c">T</text>
<text transform="matrix(0.4735 0 0 0.0580 521.36 1446.23)" font-size="100" font-weight="bold" class="lg" style="fill:#27b224">A</text>
<text transform="matrix(0.4858 0 0 0.0497 520.55 1449.70)" font-size="100" font-weight="bold" class="lg" style="fill:#4343b2">C</text>
<text transform="matrix(0.4519 0 0 0.7562 204.65 1543.11)" font-size="100" font-weight="bold" class="lg" style="fill:#d7281c">T</text>
<text transform="matrix(0.4070 0 0 0.0361 203.48 1545.64)" font-size="100" font-weight="bold" class="lg" style="fill:#4343b2">C</text>
<text transform="matrix(0.3943 0 0 0.7517 232.46 1542.70)" font-size="100" font-weight="bold" class="lg" style="fill:#f4a40c">G</text>
<text transform="matrix(0.3967 0 0 0.0322 233.08 1545.67)" font-size="100" font-weight="bold" class="lg" style="fill:#27b224">A</text>
<text transform="matrix(0.4070 0 0 0.6987 261.34 1539.00)" font-size="100" font-weight="bold" class="lg" style="fill:#4343b2">C</text>
<text transform="matrix(0.4519 0 0 0.0744 262.51 1545.67)" font-size="100" font-weight="bold" class="lg" style="fill:#d7281c">T</text>
<text transform="matrix(0.3967 0 0 0.7686 290.94 1543.97)" font-size="100" font-weight="bold" class="lg" style="fill:#27b224">A</text>
<text transform="matrix(0.4519 0 0 0.0248 291.44 1545.67)" font-size="100" font-weight="bold" class="lg" style="fill:#d7281c">T</text>
<text transform="matrix(0.3943 0 0 0.7517 319.25 1542.70)" font-size="100" font-weight="bold" class="lg" style="fill:#f4a40c">G</text>
<text transform="matrix(0.4070 0 0 0.0313 319.19 1545.64)" font-size="100" font-weight="bold" class="lg" style="fill:#4343b2">C</text>
<text transform="matrix(0.4519 0 0 0.7562 349.30 1543.11)" font-size="100" font-weight="bold" class="lg" style="fill:#d7281c">T</text>
<text transform="matrix(0.4070 0 0 0.0313 348.12 1545.64)" font-size="100" font-weight="bold" class="lg" style="fill:#4343b2">C</text>
<text transform="matrix(0.3967 0 0 0.5702 377.73 1529.47)" font-size="100" font-weight="bold" class="lg" style="fill:#27b224">A</text>
<text transform="matrix(0.3943 0 0 0.1976 377.11 1544.62)" font-size="100" font-weight="bold" class="lg" style="fill:#f4a40c">G</text>
<text transform="matrix(0.4070 0 0 0.7517 405.98 1542.70)" font-size="100" font-weight="bold" class="lg" style="fill:#4343b2">C</text>
<text transform="matrix(0.3967 0 0 0.0322 406.66 1545.67)" font-size="100" font-weight="bold" class="lg" style="fill:#27b224">A</text>
<text transform="matrix(0.4070 0 0 0.6987 434.91 1539.00)" font-size="100" font-weight="bold" class="lg" style="fill:#4343b2">C</text>
<text transform="matrix(0.4519 0 0 0.0669 436.08 1545.16)" font-size="100" font-weight="bold" class="lg" style="fill:#d7281c">T</text>
<text transform="matrix(0.4519 0 0 0.6198 465.01 1532.88)" font-size="100" font-weight="bold" class="lg" style="fill:#d7281c">T</text>
<text transform="matrix(0.4070 0 0 0.1518 463.84 1544.33)" font-size="100" font-weight="bold" class="lg" style="fill:#4343b2">C</text>
<text transform="matrix(0.4373 0 0 0.3727 219.48 1607.21)" font-size="100" font-weight="bold" class="lg" style="fill:#f4a40c">G</text>
<text transform="matrix(0.4399 0 0 0.3487 220.17 1633.17)" font-size="100" font-weight="bold" class="lg" style="fill:#27b224">A</text>
<text transform="matrix(0.5011 0 0 0.1395 220.72 1643.56)" font-size="100" font-weight="bold" class="lg" style="fill:#d7281c">T</text>
<text transform="matrix(0.4513 0 0 0.0181 219.42 1644.82)" font-size="100" font-weight="bold" class="lg" style="fill:#4343b2">C</text>
<text transform="matrix(0.4513 0 0 0.6211 251.51 1625.35)" font-size="100" font-weight="bold" class="lg" style="fill:#4343b2">C</text>
<text transform="matrix(0.5011 0 0 0.2557 252.80 1644.36)" font-size="100" font-weight="bold" class="lg" style="fill:#d7281c">T</text>
<text transform="matrix(0.4513 0 0 0.3953 283.59 1608.78)" font-size="100" font-weight="bold" class="lg" style="fill:#4343b2">C</text>
<text transform="matrix(0.4399 0 0 0.3370 284.34 1633.17)" font-size="100" font-weight="bold" class="lg" style="fill:#27b224">A</text>
<text transform="matrix(0.4373 0 0 0.1468 283.65 1644.21)" font-size="100" font-weight="bold" class="lg" style="fill:#f4a40c">G</text>
<text transform="matrix(0.4513 0 0 0.3840 315.67 1608.00)" font-size="100" font-weight="bold" class="lg" style="fill:#4343b2">C</text>
<text transform="matrix(0.4399 0 0 0.3022 316.42 1629.97)" font-size="100" font-weight="bold" class="lg" style="fill:#27b224">A</text>
<text transform="matrix(0.5011 0 0 0.2092 316.97 1644.36)" font-size="100" font-weight="bold" class="lg" style="fill:#d7281c">T</text>
<text transform="matrix(0.4373 0 0 0.3501 347.81 1605.63)" font-size="100" font-weight="bold" class="lg" style="fill:#f4a40c">G</text>
<text transform="matrix(0.4513 0 0 0.3501 347.75 1631.22)" font-size="100" font-weight="bold" class="lg" style="fill:#4343b2">C</text>
<text transform="matrix(0.5011 0 0 0.1627 349.05 1643.56)" font-size="100" font-weight="bold" class="lg" style="fill:#d7281c">T</text>
<text transform="matrix(0.4399 0 0 0.0186 348.51 1644.84)" font-size="100" font-weight="bold" class="lg" style="fill:#27b224">A</text>
<text transform="matrix(0.4513 0 0 0.5534 379.84 1620.62)" font-size="100" font-weight="bold" class="lg" style="fill:#4343b2">C</text>
<text transform="matrix(0.4373 0 0 0.1581 379.90 1633.01)" font-size="100" font-weight="bold" class="lg" style="fill:#f4a40c">G</text>
<text transform="matrix(0.5011 0 0 0.1278 381.14 1642.76)" font-size="100" font-weight="bold" class="lg" style="fill:#d7281c">T</text>
<text transform="matrix(0.4399 0 0 0.0302 380.59 1644.84)" font-size="100" font-weight="bold" class="lg" style="fill:#27b224">A</text>
<text transform="matrix(0.5011 0 0 0.5462 413.22 1619.57)" font-size="100" font-weight="bold" class="lg" style="fill:#d7281c">T</text>
<text transform="matrix(0.4399 0 0 0.2092 412.67 1635.57)" font-size="100" font-weight="bold" class="lg" style="fill:#27b224">A</text>
<text transform="matrix(0.4373 0 0 0.0858 411.98 1643.16)" font-size="100" font-weight="bold" class="lg" style="fill:#f4a40c">G</text>
<text transform="matrix(0.4513 0 0 0.0226 411.92 1644.82)" font-size="100" font-weight="bold" class="lg" style="fill:#4343b2">C</text>
<text transform="matrix(0.4373 0 0 0.5082 444.06 1616.67)" font-size="100" font-weight="bold" class="lg" style="fill:#f4a40c">G</text>
<text transform="matrix(0.4513 0 0 0.1920 444.00 1632.18)" font-size="100" font-weight="bold" class="lg" style="fill:#4343b2">C</text>
<text transform="matrix(0.4399 0 0 0.1046 444.75 1640.36)" font-size="100" font-weight="bold" class="lg" style="fill:#27b224">A</text>
<text transform="matrix(0.5011 0 0 0.0581 445.30 1644.36)" font-size="100" font-weight="bold" class="lg" style="fill:#d7281c">T</text>
<text transform="matrix(0.4472 0 0 0.7508 177.26 1721.91)" font-size="100" font-weight="bold" class="lg" style="fill:#d7281c">T</text>
<text transform="matrix(0.4027 0 0 0.0429 176.10 1724.90)" font-size="100" font-weight="bold" class="lg" style="fill:#4343b2">C</text>
<text transform="matrix(0.4472 0 0 0.7213 205.89 1719.88)" font-size="100" font-weight="bold" class="lg" style="fill:#d7281c">T</text>
<text transform="matrix(0.4027 0 0 0.0515 204.73 1724.49)" font-size="100" font-weight="bold" class="lg" style="fill:#4343b2">C</text>
<text transform="matrix(0.4027 0 0 0.7010 233.36 1718.17)" font-size="100" font-weight="bold" class="lg" style="fill:#4343b2">C</text>
<text transform="matrix(0.4472 0 0 0.0736 234.52 1724.95)" font-size="100" font-weight="bold" class="lg" style="fill:#d7281c">T</text>
<text transform="matrix(0.4027 0 0 0.6866 261.99 1717.17)" font-size="100" font-weight="bold" class="lg" style="fill:#4343b2">C</text>
<text transform="matrix(0.4472 0 0 0.0824 263.15 1724.54)" font-size="100" font-weight="bold" class="lg" style="fill:#d7281c">T</text>
<text transform="matrix(0.3925 0 0 0.6919 291.29 1716.84)" font-size="100" font-weight="bold" class="lg" style="fill:#27b224">A</text>
<text transform="matrix(0.3902 0 0 0.0944 290.67 1724.45)" font-size="100" font-weight="bold" class="lg" style="fill:#f4a40c">G</text>
<text transform="matrix(0.3902 0 0 0.7868 319.30 1724.16)" font-size="100" font-weight="bold" class="lg" style="fill:#f4a40c">G</text>
<text transform="matrix(0.3902 0 0 0.7868 347.93 1724.16)" font-size="100" font-weight="bold" class="lg" style="fill:#f4a40c">G</text>
<text transform="matrix(0.3902 0 0 0.6723 376.56 1716.17)" font-size="100" font-weight="bold" class="lg" style="fill:#f4a40c">G</text>
<text transform="matrix(0.4027 0 0 0.0944 376.50 1724.45)" font-size="100" font-weight="bold" class="lg" style="fill:#4343b2">C</text>
<text transform="matrix(0.3902 0 0 0.7153 405.18 1719.17)" font-size="100" font-weight="bold" class="lg" style="fill:#f4a40c">G</text>
<text transform="matrix(0.4027 0 0 0.0429 405.13 1722.88)" font-size="100" font-weight="bold" class="lg" style="fill:#4343b2">C</text>
<text transform="matrix(0.3925 0 0 0.0294 405.80 1724.95)" font-size="100" font-weight="bold" class="lg" style="fill:#27b224">A</text>
<text transform="matrix(0.3925 0 0 0.6036 434.43 1710.77)" font-size="100" font-weight="bold" class="lg" style="fill:#27b224">A</text>
<text transform="matrix(0.4472 0 0 0.1030 434.92 1717.86)" font-size="100" font-weight="bold" class="lg" style="fill:#d7281c">T</text>
<text transform="matrix(0.4027 0 0 0.0944 433.76 1724.45)" font-size="100" font-weight="bold" class="lg" style="fill:#4343b2">C</text>
<text transform="matrix(0.4472 0 0 0.7949 463.55 1724.95)" font-size="100" font-weight="bold" class="lg" style="fill:#d7281c">T</text>
<text transform="matrix(0.4027 0 0 0.7010 491.02 1718.17)" font-size="100" font-weight="bold" class="lg" style="fill:#4343b2">C</text>
<text transform="matrix(0.4472 0 0 0.0824 492.18 1724.54)" font-size="100" font-weight="bold" class="lg" style="fill:#d7281c">T</text>
<text transform="matrix(0.4374 0 0 0.2921 173.31 1869.15)" font-size="100" font-weight="bold" class="lg" style="fill:#4343b2">C</text>
<text transform="matrix(0.4263 0 0 0.2479 174.04 1887.57)" font-size="100" font-weight="bold" class="lg" style="fill:#27b224">A</text>
<text transform="matrix(0.4238 0 0 0.1807 173.37 1902.31)" font-size="100" font-weight="bold" class="lg" style="fill:#f4a40c">G</text>
<text transform="matrix(0.4857 0 0 0.0930 174.57 1909.96)" font-size="100" font-weight="bold" class="lg" style="fill:#d7281c">T</text>
<text transform="matrix(0.4263 0 0 0.4339 205.13 1879.04)" font-size="100" font-weight="bold" class="lg" style="fill:#27b224">A</text>
<text transform="matrix(0.4374 0 0 0.2560 204.40 1897.97)" font-size="100" font-weight="bold" class="lg" style="fill:#4343b2">C</text>
<text transform="matrix(0.4857 0 0 0.1550 205.66 1909.96)" font-size="100" font-weight="bold" class="lg" style="fill:#d7281c">T</text>
<text transform="matrix(0.4263 0 0 0.8368 236.23 1907.83)" font-size="100" font-weight="bold" class="lg" style="fill:#27b224">A</text>
<text transform="matrix(0.4238 0 0 0.0392 235.55 1910.56)" font-size="100" font-weight="bold" class="lg" style="fill:#f4a40c">G</text>
<text transform="matrix(0.4263 0 0 0.6043 267.32 1891.83)" font-size="100" font-weight="bold" class="lg" style="fill:#27b224">A</text>
<text transform="matrix(0.4374 0 0 0.1355 266.59 1902.36)" font-size="100" font-weight="bold" class="lg" style="fill:#4343b2">C</text>
<text transform="matrix(0.4238 0 0 0.0994 266.65 1910.50)" font-size="100" font-weight="bold" class="lg" style="fill:#f4a40c">G</text>
<text transform="matrix(0.4374 0 0 0.8673 297.69 1909.73)" font-size="100" font-weight="bold" class="lg" style="fill:#4343b2">C</text>
<text transform="matrix(0.4374 0 0 0.8673 328.78 1909.73)" font-size="100" font-weight="bold" class="lg" style="fill:#4343b2">C</text>
<text transform="matrix(0.4263 0 0 0.6043 360.60 1891.83)" font-size="100" font-weight="bold" class="lg" style="fill:#27b224">A</text>
<text transform="matrix(0.4238 0 0 0.1506 359.93 1903.41)" font-size="100" font-weight="bold" class="lg" style="fill:#f4a40c">G</text>
<text transform="matrix(0.4857 0 0 0.0930 361.14 1909.96)" font-size="100" font-weight="bold" class="lg" style="fill:#d7281c">T</text>
<text transform="matrix(0.4374 0 0 0.8583 390.97 1909.10)" font-size="100" font-weight="bold" class="lg" style="fill:#4343b2">C</text>
<text transform="matrix(0.4263 0 0 0.8771 422.79 1910.60)" font-size="100" font-weight="bold" class="lg" style="fill:#27b224">A</text>
<text transform="matrix(0.4263 0 0 0.5269 453.89 1886.50)" font-size="100" font-weight="bold" class="lg" style="fill:#27b224">A</text>
<text transform="matrix(0.4238 0 0 0.2710 453.22 1905.42)" font-size="100" font-weight="bold" class="lg" style="fill:#f4a40c">G</text>
<text transform="matrix(0.4857 0 0 0.0620 454.42 1909.96)" font-size="100" font-weight="bold" class="lg" style="fill:#d7281c">T</text>
<text transform="matrix(0.4263 0 0 0.5578 484.98 1888.64)" font-size="100" font-weight="bold" class="lg" style="fill:#27b224">A</text>
<text transform="matrix(0.4238 0 0 0.2108 484.31 1904.42)" font-size="100" font-weight="bold" class="lg" style="fill:#f4a40c">G</text>
<text transform="matrix(0.4374 0 0 0.0693 484.25 1910.53)" font-size="100" font-weight="bold" class="lg" style="fill:#4343b2">C</text>
<text transform="matrix(0.4374 0 0 0.2108 515.35 1869.23)" font-size="100" font-weight="bold" class="lg" style="fill:#4343b2">C</text>
<text transform="matrix(0.4857 0 0 0.2479 516.61 1887.57)" font-size="100" font-weight="bold" class="lg" style="fill:#d7281c">T</text>
<text transform="matrix(0.4263 0 0 0.2014 516.08 1903.56)" font-size="100" font-weight="bold" class="lg" style="fill:#27b224">A</text>
<text transform="matrix(0.4238 0 0 0.0994 515.41 1910.50)" font-size="100" font-weight="bold" class="lg" style="fill:#f4a40c">G</text>
<text transform="matrix(0.4921 0 0 0.6098 167.37 1979.76)" font-size="100" font-weight="bold" class="lg" style="fill:#4343b2">C</text>
<text transform="matrix(0.5464 0 0 0.1499 168.79 1991.17)" font-size="100" font-weight="bold" class="lg" style="fill:#d7281c">T</text>
<text transform="matrix(0.4768 0 0 0.1016 167.43 1999.46)" font-size="100" font-weight="bold" class="lg" style="fill:#f4a40c">G</text>
<text transform="matrix(0.4796 0 0 0.0872 168.19 2005.56)" font-size="100" font-weight="bold" class="lg" style="fill:#27b224">A</text>
<text transform="matrix(0.4921 0 0 0.9486 202.35 2003.41)" font-size="100" font-weight="bold" class="lg" style="fill:#4343b2">C</text>
<text transform="matrix(0.4796 0 0 0.0174 203.17 2005.56)" font-size="100" font-weight="bold" class="lg" style="fill:#27b224">A</text>
<text transform="matrix(0.4796 0 0 0.5230 238.15 1973.18)" font-size="100" font-weight="bold" class="lg" style="fill:#27b224">A</text>
<text transform="matrix(0.4768 0 0 0.3557 237.40 1999.21)" font-size="100" font-weight="bold" class="lg" style="fill:#f4a40c">G</text>
<text transform="matrix(0.5464 0 0 0.0802 238.75 2005.56)" font-size="100" font-weight="bold" class="lg" style="fill:#d7281c">T</text>
<text transform="matrix(0.4768 0 0 0.5421 272.38 1975.03)" font-size="100" font-weight="bold" class="lg" style="fill:#f4a40c">G</text>
<text transform="matrix(0.4921 0 0 0.3557 272.32 2001.61)" font-size="100" font-weight="bold" class="lg" style="fill:#4343b2">C</text>
<text transform="matrix(0.4796 0 0 0.0523 273.13 2005.56)" font-size="100" font-weight="bold" class="lg" style="fill:#27b224">A</text>
<text transform="matrix(0.4921 0 0 0.4743 307.30 1970.30)" font-size="100" font-weight="bold" class="lg" style="fill:#4343b2">C</text>
<text transform="matrix(0.4768 0 0 0.2473 307.36 1989.24)" font-size="100" font-weight="bold" class="lg" style="fill:#f4a40c">G</text>
<text transform="matrix(0.5464 0 0 0.2092 308.71 2004.36)" font-size="100" font-weight="bold" class="lg" style="fill:#d7281c">T</text>
<text transform="matrix(0.4796 0 0 0.0174 308.12 2005.56)" font-size="100" font-weight="bold" class="lg" style="fill:#27b224">A</text>
<text transform="matrix(0.4796 0 0 0.9762 343.10 2005.56)" font-size="100" font-weight="bold" class="lg" style="fill:#27b224">A</text>
<text transform="matrix(0.4768 0 0 0.9656 377.32 2004.59)" font-size="100" font-weight="bold" class="lg" style="fill:#f4a40c">G</text>
<text transform="matrix(0.4768 0 0 0.4404 412.30 1967.94)" font-size="100" font-weight="bold" class="lg" style="fill:#f4a40c">G</text>
<text transform="matrix(0.4796 0 0 0.4707 413.06 2001.96)" font-size="100" font-weight="bold" class="lg" style="fill:#27b224">A</text>
<text transform="matrix(0.5464 0 0 0.0523 413.66 2005.56)" font-size="100" font-weight="bold" class="lg" style="fill:#d7281c">T</text>
<text transform="matrix(0.4768 0 0 0.4574 447.28 1969.12)" font-size="100" font-weight="bold" class="lg" style="fill:#f4a40c">G</text>
<text transform="matrix(0.5464 0 0 0.3487 448.64 1994.77)" font-size="100" font-weight="bold" class="lg" style="fill:#d7281c">T</text>
<text transform="matrix(0.4921 0 0 0.1016 447.22 2003.06)" font-size="100" font-weight="bold" class="lg" style="fill:#4343b2">C</text>
<text transform="matrix(0.4796 0 0 0.0349 448.04 2005.56)" font-size="100" font-weight="bold" class="lg" style="fill:#27b224">A</text>
<text transform="matrix(0.4768 0 0 0.8470 482.27 1996.32)" font-size="100" font-weight="bold" class="lg" style="fill:#f4a40c">G</text>
<text transform="matrix(0.5464 0 0 0.0802 483.62 2003.16)" font-size="100" font-weight="bold" class="lg" style="fill:#d7281c">T</text>
<text transform="matrix(0.4796 0 0 0.0349 483.02 2005.56)" font-size="100" font-weight="bold" class="lg" style="fill:#27b224">A</text>
<text transform="matrix(0.4768 0 0 0.7962 517.25 1992.77)" font-size="100" font-weight="bold" class="lg" style="fill:#f4a40c">G</text>
<text transform="matrix(0.5464 0 0 0.1046 518.60 2000.76)" font-size="100" font-weight="bold" class="lg" style="fill:#d7281c">T</text>
<text transform="matrix(0.4796 0 0 0.0349 518.00 2003.16)" font-size="100" font-weight="bold" class="lg" style="fill:#27b224">A</text>
<text transform="matrix(0.4921 0 0 0.0339 517.18 2005.53)" font-size="100" font-weight="bold" class="lg" style="fill:#4343b2">C</text>
<text transform="matrix(0.4921 0 0 0.7284 552.17 1988.04)" font-size="100" font-weight="bold" class="lg" style="fill:#4343b2">C</text>
<text transform="matrix(0.4768 0 0 0.1186 552.23 1998.24)" font-size="100" font-weight="bold" class="lg" style="fill:#f4a40c">G</text>
<text transform="matrix(0.4796 0 0 0.0523 552.98 2001.96)" font-size="100" font-weight="bold" class="lg" style="fill:#27b224">A</text>
<text transform="matrix(0.5464 0 0 0.0523 553.58 2005.56)" font-size="100" font-weight="bold" class="lg" style="fill:#d7281c">T</text>
<text transform="matrix(0.4859 0 0 0.5404 165.07 2080.37)" font-size="100" font-weight="bold" class="lg" style="fill:#27b224">A</text>
<text transform="matrix(0.4986 0 0 0.2033 164.25 2096.96)" font-size="100" font-weight="bold" class="lg" style="fill:#4343b2">C</text>
<text transform="matrix(0.4830 0 0 0.1694 164.31 2110.19)" font-size="100" font-weight="bold" class="lg" style="fill:#f4a40c">G</text>
<text transform="matrix(0.4986 0 0 0.8978 199.69 2105.86)" font-size="100" font-weight="bold" class="lg" style="fill:#4343b2">C</text>
<text transform="matrix(0.5536 0 0 0.0418 201.12 2109.64)" font-size="100" font-weight="bold" class="lg" style="fill:#d7281c">T</text>
<text transform="matrix(0.4859 0 0 0.0279 200.52 2111.56)" font-size="100" font-weight="bold" class="lg" style="fill:#27b224">A</text>
<text transform="matrix(0.4986 0 0 0.8639 235.13 2103.50)" font-size="100" font-weight="bold" class="lg" style="fill:#4343b2">C</text>
<text transform="matrix(0.5536 0 0 0.0628 236.56 2109.16)" font-size="100" font-weight="bold" class="lg" style="fill:#d7281c">T</text>
<text transform="matrix(0.4859 0 0 0.0349 235.96 2111.56)" font-size="100" font-weight="bold" class="lg" style="fill:#27b224">A</text>
<text transform="matrix(0.4859 0 0 0.9065 271.40 2106.76)" font-size="100" font-weight="bold" class="lg" style="fill:#27b224">A</text>
<text transform="matrix(0.5536 0 0 0.0697 272.00 2111.56)" font-size="100" font-weight="bold" class="lg" style="fill:#d7281c">T</text>
<text transform="matrix(0.4986 0 0 0.8978 306.01 2105.86)" font-size="100" font-weight="bold" class="lg" style="fill:#4343b2">C</text>
<text transform="matrix(0.4830 0 0 0.0678 306.07 2111.49)" font-size="100" font-weight="bold" class="lg" style="fill:#f4a40c">G</text>
<text transform="matrix(0.4859 0 0 0.7845 342.28 2098.36)" font-size="100" font-weight="bold" class="lg" style="fill:#27b224">A</text>
<text transform="matrix(0.5536 0 0 0.1046 342.89 2105.56)" font-size="100" font-weight="bold" class="lg" style="fill:#d7281c">T</text>
<text transform="matrix(0.4986 0 0 0.0745 341.45 2111.48)" font-size="100" font-weight="bold" class="lg" style="fill:#4343b2">C</text>
<text transform="matrix(0.5536 0 0 0.7670 378.33 2095.96)" font-size="100" font-weight="bold" class="lg" style="fill:#d7281c">T</text>
<text transform="matrix(0.4859 0 0 0.1220 377.72 2105.56)" font-size="100" font-weight="bold" class="lg" style="fill:#27b224">A</text>
<text transform="matrix(0.4986 0 0 0.0847 376.89 2111.47)" font-size="100" font-weight="bold" class="lg" style="fill:#4343b2">C</text>
<text transform="matrix(0.4986 0 0 0.6776 412.33 2090.49)" font-size="100" font-weight="bold" class="lg" style="fill:#4343b2">C</text>
<text transform="matrix(0.4859 0 0 0.1220 413.16 2100.76)" font-size="100" font-weight="bold" class="lg" style="fill:#27b224">A</text>
<text transform="matrix(0.4830 0 0 0.0745 412.40 2106.68)" font-size="100" font-weight="bold" class="lg" style="fill:#f4a40c">G</text>
<text transform="matrix(0.5536 0 0 0.0697 413.77 2111.56)" font-size="100" font-weight="bold" class="lg" style="fill:#d7281c">T</text>
<text transform="matrix(0.4859 0 0 0.9762 448.60 2111.56)" font-size="100" font-weight="bold" class="lg" style="fill:#27b224">A</text>
<text transform="matrix(0.4859 0 0 0.7845 484.04 2098.36)" font-size="100" font-weight="bold" class="lg" style="fill:#27b224">A</text>
<text transform="matrix(0.4830 0 0 0.1016 483.28 2106.18)" font-size="100" font-weight="bold" class="lg" style="fill:#f4a40c">G</text>
<text transform="matrix(0.4986 0 0 0.0745 483.21 2111.48)" font-size="100" font-weight="bold" class="lg" style="fill:#4343b2">C</text>
<text transform="matrix(0.4859 0 0 0.8542 519.48 2103.16)" font-size="100" font-weight="bold" class="lg" style="fill:#27b224">A</text>
<text transform="matrix(0.4830 0 0 0.0508 518.72 2106.71)" font-size="100" font-weight="bold" class="lg" style="fill:#f4a40c">G</text>
<text transform="matrix(0.4986 0 0 0.0678 518.66 2111.49)" font-size="100" font-weight="bold" class="lg" style="fill:#4343b2">C</text>
<text transform="matrix(0.4830 0 0 0.6945 554.16 2090.47)" font-size="100" font-weight="bold" class="lg" style="fill:#f4a40c">G</text>
<text transform="matrix(0.4986 0 0 0.1355 554.10 2103.03)" font-size="100" font-weight="bold" class="lg" style="fill:#4343b2">C</text>
<text transform="matrix(0.4859 0 0 0.1220 554.93 2111.56)" font-size="100" font-weight="bold" class="lg" style="fill:#27b224">A</text>
<polyline points="1356.0,2022.0 1388.3,2022.0 1389.5,1989.7 1390.3,1946.5 1391.6,1903.2 1393.3,1877.3 1393.7,1870.0 1395.1,1836.6 1397.9,1809.1 1401.1,1781.6 1404.3,1754.1 1407.5,1726.6 1411.1,1708.3 1412.7,1700.0 1415.6,1674.3 1419.2,1660.4 1422.5,1653.9 1426.2,1637.7 1429.4,1619.8 1432.7,1610.8 1437.6,1598.6 1440.8,1588.8 1445.7,1572.6 1450.6,1556.0 1455.1,1540.7 1461.1,1527.9 1464.5,1515.1 1469.6,1502.3 1478.1,1491.3 1483.3,1487.0 1494.3,1476.8 1501.2,1470.8 1508.8,1463.1 1515.7,1454.6 1519.1,1447.8 1521.6,1437.5 1526.8,1430.7 1531.9,1427.3 1536.1,1423.9 1542.1,1417.1 1550.6,1413.6 1556.6,1410.2 1560.0,1408.2 1565.3,1399.7 1572.8,1393.3 1581.3,1388.0 1592.0,1384.2 1600.5,1383.7 1610.1,1380.5 1615.4,1376.2 1626.1,1372.0 1632.5,1366.7 1638.9,1360.8 1645.3,1359.2 1656.0,1357.6 1677.3,1357.1 1698.6,1356.5 1711.4,1353.9 1719.9,1353.3 1760.0,1351.7 1846.3,1349.9 2090.0,1349.5" fill="none" stroke="#d22b22" stroke-width="3.5" stroke-linejoin="round"/>
<polyline points="1351.0,2022.0 1389.7,2022.0 1392.9,1989.7 1398.5,1946.5 1403.7,1908.4 1407.5,1870.0 1411.1,1836.6 1416.6,1809.1 1419.4,1790.8 1424.0,1772.4 1428.5,1749.5 1434.0,1726.6 1439.0,1701.0 1444.9,1678.4 1450.6,1658.0 1455.5,1641.7 1458.7,1627.9 1462.8,1621.4 1466.0,1606.7 1469.3,1597.0 1471.7,1585.6 1475.0,1577.4 1480.7,1564.4 1484.1,1560.0 1490.9,1545.0 1497.8,1531.3 1505.4,1515.1 1511.4,1506.6 1517.4,1496.4 1522.5,1484.4 1530.2,1476.8 1537.8,1465.7 1547.2,1454.6 1556.6,1449.5 1564.3,1441.8 1572.8,1434.1 1578.8,1428.1 1583.0,1421.3 1584.5,1418.9 1594.1,1412.5 1605.8,1408.2 1616.5,1404.0 1626.1,1400.8 1636.8,1396.5 1645.3,1389.0 1656.0,1384.8 1671.9,1379.4 1687.9,1375.2 1701.8,1372.5 1714.6,1368.3 1730.6,1365.6 1737.0,1364.5 1741.2,1361.3 1760.0,1357.1 1804.5,1354.7 1888.0,1351.8 1971.6,1350.6 2034.3,1350.1 2090.0,1349.8" fill="none" stroke="#111" stroke-width="3.7" stroke-linejoin="round"/>
<rect x="1356.0" y="1316.0" width="734.0" height="739.8000000000002" fill="none" stroke="#111" stroke-width="2.3"/>
<line x1="1350.5" y1="1349.5" x2="1356.0" y2="1349.5" stroke="#333" stroke-width="2.6"/>
<line x1="1350.5" y1="1517.5" x2="1356.0" y2="1517.5" stroke="#333" stroke-width="2.6"/>
<line x1="1350.5" y1="1685.7" x2="1356.0" y2="1685.7" stroke="#333" stroke-width="2.6"/>
<line x1="1350.5" y1="1854.0" x2="1356.0" y2="1854.0" stroke="#333" stroke-width="2.6"/>
<line x1="1350.5" y1="2022.0" x2="1356.0" y2="2022.0" stroke="#333" stroke-width="2.6"/>
<text x="1283.0" y="1361.5" font-size="32.1">1.00</text>
<text x="1283.0" y="1529.5" font-size="32.1">0.75</text>
<text x="1283.0" y="1697.7" font-size="32.1">0.50</text>
<text x="1283.0" y="1866.0" font-size="32.1">0.25</text>
<text x="1282.9" y="2018.3" font-size="32.1">0.00</text>
<line x1="1388.8" y1="2055.8" x2="1388.8" y2="2060.3" stroke="#333" stroke-width="2.6"/>
<text x="1379.9" y="2097.5" font-size="32.1">0</text>
<line x1="1539.1" y1="2055.8" x2="1539.1" y2="2060.3" stroke="#333" stroke-width="2.6"/>
<text x="1530.2" y="2097.5" font-size="32.1">5</text>
<line x1="1689.4" y1="2055.8" x2="1689.4" y2="2060.3" stroke="#333" stroke-width="2.6"/>
<text x="1671.0" y="2097.5" font-size="32.1">10</text>
<line x1="1839.7" y1="2055.8" x2="1839.7" y2="2060.3" stroke="#333" stroke-width="2.6"/>
<text x="1821.3" y="2097.5" font-size="32.1">15</text>
<line x1="1990.0" y1="2055.8" x2="1990.0" y2="2060.3" stroke="#333" stroke-width="2.6"/>
<text x="1972.0" y="2097.5" font-size="32.1">20</text>
<text transform="translate(1264.6,1825.2) rotate(-90)" font-size="32.1">Cumulative distribution</text>
<text x="1526.2" y="2146.8" font-size="32.1">Distance to dynamic boundaries</text>
<text x="1485.6" y="2183.4" font-size="32.1">bound by CTCF and TCF-1 in DN3 (Mb)</text>
<text x="1390.5" y="1363.1" font-size="32.1" xml:space="preserve"><tspan font-style="italic">P</tspan> &lt; 2.2e-16</text>
<line x1="1740.7" y1="1400.3" x2="1769.0" y2="1400.3" stroke="#d22b22" stroke-width="3.2"/>
<line x1="1744.9" y1="1478.6" x2="1772.7" y2="1478.6" stroke="#111" stroke-width="3.4"/>
<text x="1776.6" y="1408.7" font-size="32.1">TCF-1 dependent</text>
<text x="1774.7" y="1447.3" font-size="32.1">NIPBL bound sites</text>
<text x="1774.7" y="1489.1" font-size="32.1">Random genomic</text>
<text x="1775.9" y="1526.7" font-size="32.1">coordinates</text>
</svg>
</body></html>
